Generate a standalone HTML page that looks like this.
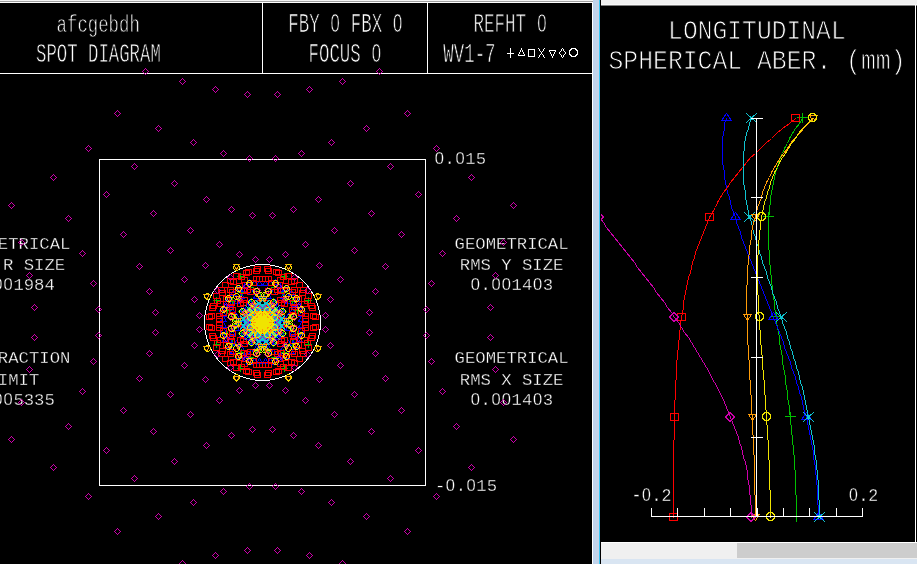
<!DOCTYPE html>
<html lang="en"><head><meta charset="utf-8"><title>Spot diagram / Longitudinal spherical aberration</title>
<style>html,body{margin:0;padding:0;background:#000;overflow:hidden}svg{display:block;will-change:transform}
.t{font-family:"Liberation Mono","DejaVu Sans Mono",monospace;fill:#fff;stroke:#000}
.z{font-family:"Liberation Sans","DejaVu Sans",sans-serif}
.ce{shape-rendering:crispEdges;fill:none;stroke-width:1;stroke-linecap:square;stroke-linejoin:bevel}
</style></head>
<body>
<svg width="917" height="564" viewBox="0 0 917 564">
<defs><linearGradient id="bf" x1="0" x2="1" y1="0" y2="0"><stop offset="0" stop-color="#bcd3ee"/><stop offset="1" stop-color="#c6d3e6"/></linearGradient><clipPath id="cl"><rect x="0" y="3" width="592" height="561"/></clipPath><clipPath id="cr"><rect x="601" y="6" width="314" height="536"/></clipPath></defs>
<rect width="917" height="564" fill="#000"/>
<g shape-rendering="crispEdges">
<rect x="0" y="0" width="593" height="1" fill="#f4f4f4"/><rect x="0" y="1" width="593" height="1" fill="#a0a0a0"/><rect x="0" y="2" width="593" height="1" fill="#fff"/>
<rect x="592" y="2" width="1" height="562" fill="#fff"/><rect x="593" y="0" width="6" height="564" fill="url(#bf)"/><rect x="599" y="0" width="1" height="564" fill="#38c6f4"/>
<rect x="601" y="0" width="316" height="4" fill="#f0f0f0"/><rect x="601" y="4" width="316" height="1" fill="#f8f8f8"/><rect x="601" y="5" width="316" height="1" fill="#808080"/>
<rect x="915" y="5" width="1" height="538" fill="#fff"/>
<rect x="601" y="542" width="316" height="1" fill="#fff"/><rect x="601" y="543" width="316" height="16" fill="#f0f0f0"/><rect x="737" y="543" width="180" height="15" fill="#cdcdcd"/><rect x="601" y="559" width="316" height="5" fill="#d9e5f2"/>
</g>
<g class="ce" stroke="#fff" style="stroke-linecap:butt">
<path d="M0 73.5H592M262.5 3V73M427.5 3V73"/>
<rect x="99.5" y="159.5" width="326" height="326"/>
</g>
<g clip-path="url(#cl)">
<text class="t" transform="translate(56.6 31.8) scale(0.7133 1)" font-size="24.3" stroke-width="0.75" x="0 14.58 29.16 43.74 58.32 72.9 87.48 102.06" y="0" xml:space="preserve">afcgebdh</text>
<text class="t" transform="translate(36 61.8) scale(0.6378 1)" font-size="27.17" stroke-width="0.75" x="0 16.3 32.61 48.91 65.22 81.52 97.83 114.13 130.44 146.74 163.05 179.35" y="0" xml:space="preserve">SPOT DIAGRAM</text>
<text class="t" transform="translate(288.29 31.5) scale(0.6391 1)" font-size="27.17" stroke-width="0.75" x="0 16.3 32.61 48.91 66.14 81.52 97.83 114.13 130.44 146.74 163.97" y="0" xml:space="preserve">FBY <tspan class="z" font-size="26.02">0</tspan> FBX <tspan class="z" font-size="26.02">0</tspan></text>
<text class="t" transform="translate(308.53 61.8) scale(0.6409 1)" font-size="27.17" stroke-width="0.75" x="0 16.3 32.61 48.91 65.22 81.52 98.75" y="0" xml:space="preserve">FOCUS <tspan class="z" font-size="26.02">0</tspan></text>
<text class="t" transform="translate(473.55 31.5) scale(0.6440 1)" font-size="27.17" stroke-width="0.75" x="0 16.3 32.61 48.91 65.22 81.52 98.75" y="0" xml:space="preserve">REFHT <tspan class="z" font-size="26.02">0</tspan></text>
<text class="t" transform="translate(443.3 61.8) scale(0.6409 1)" font-size="27.17" stroke-width="0.75" x="0 16.3 32.61 48.91 65.22" y="0" xml:space="preserve">WV1-7</text>
<text class="t" transform="translate(434.2 164.2) scale(1.0340 1)" font-size="16.7" stroke-width="0.32" x="0.56 10.02 20.6 30.06 40.08" y="0" xml:space="preserve"><tspan class="z" font-size="15.99">0</tspan>.<tspan class="z" font-size="15.99">0</tspan>15</text>
<text class="t" transform="translate(434.92 491.2) scale(1.0340 1)" font-size="16.7" stroke-width="0.32" x="0 10.58 20.04 30.62 40.08 50.1" y="0" xml:space="preserve">-<tspan class="z" font-size="15.99">0</tspan>.<tspan class="z" font-size="15.99">0</tspan>15</text>
<text class="t" transform="translate(454.62 248.9) scale(1.0340 1)" font-size="16.7" stroke-width="0.32" x="0 10.02 20.04 30.06 40.08 50.1 60.12 70.14 80.16 90.18 100.2" y="0" xml:space="preserve">GEOMETRICAL</text>
<text class="t" transform="translate(459.8 269.5) scale(1.0340 1)" font-size="16.7" stroke-width="0.32" x="0 10.02 20.04 30.06 40.08 50.1 60.12 70.14 80.16 90.18" y="0" xml:space="preserve">RMS Y SIZE</text>
<text class="t" transform="translate(470.16 289.9) scale(1.0340 1)" font-size="16.7" stroke-width="0.32" x="0.56 10.02 20.6 30.62 40.08 50.1 60.68 70.14" y="0" xml:space="preserve"><tspan class="z" font-size="15.99">0</tspan>.<tspan class="z" font-size="15.99">0</tspan><tspan class="z" font-size="15.99">0</tspan>14<tspan class="z" font-size="15.99">0</tspan>3</text>
<text class="t" transform="translate(454.62 363.4) scale(1.0340 1)" font-size="16.7" stroke-width="0.32" x="0 10.02 20.04 30.06 40.08 50.1 60.12 70.14 80.16 90.18 100.2" y="0" xml:space="preserve">GEOMETRICAL</text>
<text class="t" transform="translate(459.8 384.5) scale(1.0340 1)" font-size="16.7" stroke-width="0.32" x="0 10.02 20.04 30.06 40.08 50.1 60.12 70.14 80.16 90.18" y="0" xml:space="preserve">RMS X SIZE</text>
<text class="t" transform="translate(470.16 404.6) scale(1.0340 1)" font-size="16.7" stroke-width="0.32" x="0.56 10.02 20.6 30.62 40.08 50.1 60.68 70.14" y="0" xml:space="preserve"><tspan class="z" font-size="15.99">0</tspan>.<tspan class="z" font-size="15.99">0</tspan><tspan class="z" font-size="15.99">0</tspan>14<tspan class="z" font-size="15.99">0</tspan>3</text>
<text class="t" transform="translate(-43.58 248.9) scale(1.0340 1)" font-size="16.7" stroke-width="0.32" x="0 10.02 20.04 30.06 40.08 50.1 60.12 70.14 80.16 90.18 100.2" y="0" xml:space="preserve">GEOMETRICAL</text>
<text class="t" transform="translate(-38.4 269.5) scale(1.0340 1)" font-size="16.7" stroke-width="0.32" x="0 10.02 20.04 30.06 40.08 50.1 60.12 70.14 80.16 90.18" y="0" xml:space="preserve">RMS R SIZE</text>
<text class="t" transform="translate(-28.04 289.9) scale(1.0340 1)" font-size="16.7" stroke-width="0.32" x="0.56 10.02 20.6 30.62 40.08 50.1 60.12 70.14" y="0" xml:space="preserve"><tspan class="z" font-size="15.99">0</tspan>.<tspan class="z" font-size="15.99">0</tspan><tspan class="z" font-size="15.99">0</tspan>1984</text>
<text class="t" transform="translate(-43.58 363.4) scale(1.0340 1)" font-size="16.7" stroke-width="0.32" x="0 10.02 20.04 30.06 40.08 50.1 60.12 70.14 80.16 90.18 100.2" y="0" xml:space="preserve">DIFFRACTION</text>
<text class="t" transform="translate(-12.5 384.5) scale(1.0340 1)" font-size="16.7" stroke-width="0.32" x="0 10.02 20.04 30.06 40.08" y="0" xml:space="preserve">LIMIT</text>
<text class="t" transform="translate(-28.04 404.6) scale(1.0340 1)" font-size="16.7" stroke-width="0.32" x="0.56 10.02 20.6 30.62 40.08 50.1 60.12 70.14" y="0" xml:space="preserve"><tspan class="z" font-size="15.99">0</tspan>.<tspan class="z" font-size="15.99">0</tspan><tspan class="z" font-size="15.99">0</tspan>5335</text>
</g>
<text class="t" transform="translate(668.1 38.9) scale(0.9180 1)" font-size="26.87" stroke-width="0.9" x="0 16.12 32.25 48.37 64.49 80.61 96.74 112.86 128.98 145.1 161.23 177.35" y="0" xml:space="preserve">LONGITUDINAL</text>
<text class="t" transform="translate(608.5 69) scale(0.9108 1)" font-size="27.17" stroke-width="0.9" x="0 16.3 32.61 48.91 65.22 81.52 97.83 114.13 130.44 146.74 163.05 179.35 195.66 211.96 228.27 244.57 260.88 277.18 293.49 309.79" y="0" xml:space="preserve">SPHERICAL ABER. (mm)</text>
<text class="t" transform="translate(631.6 500.9) scale(0.9103 1)" font-size="18.22" stroke-width="0.32" x="0 11.55 21.86 32.79" y="0" xml:space="preserve">-<tspan class="z" font-size="17.44">0</tspan>.2</text>
<text class="t" transform="translate(848.48 500.9) scale(0.9103 1)" font-size="18.22" stroke-width="0.32" x="0.62 10.93 21.86" y="0" xml:space="preserve"><tspan class="z" font-size="17.44">0</tspan>.2</text>
<path class="ce" stroke="#fff" d="M507.5 53.5h6M510.5 48.5v9M521.5 48.5l3 7h-6zM528.5 49.5h6v7h-6zM538.5 48.5l6 9M544.5 48.5l-6 9M552.5 57.5l3 -7h-6zM559.5 53l3 -4.5 3 4.5 -3 4.5zM569.5 51.5l1 -2 2 -1h2l2 1 1 2v2l-1 2 -2 1h-2l-2 -1 -1 -2z"/>
<g clip-path="url(#cl)">
<path class="ce" stroke="#fff" d="M320.5 322.5L320.28 327.56L319.62 332.57L318.52 337.51L317 342.34L315.07 347.01L312.73 351.5L310.01 355.77L306.93 359.78L303.51 363.51L299.78 366.93L295.77 370.01L291.5 372.73L287.01 375.07L282.34 377L277.51 378.52L272.57 379.62L267.56 380.28L262.5 380.5L257.44 380.28L252.43 379.62L247.49 378.52L242.66 377L237.99 375.07L233.5 372.73L229.23 370.01L225.22 366.93L221.49 363.51L218.07 359.78L214.99 355.77L212.27 351.5L209.93 347.01L208 342.34L206.48 337.51L205.38 332.57L204.72 327.56L204.5 322.5L204.72 317.44L205.38 312.43L206.48 307.49L208 302.66L209.93 297.99L212.27 293.5L214.99 289.23L218.07 285.22L221.49 281.49L225.22 278.07L229.23 274.99L233.5 272.27L237.99 269.93L242.66 268L247.49 266.48L252.43 265.38L257.44 264.72L262.5 264.5L267.56 264.72L272.57 265.38L277.51 266.48L282.34 268L287.01 269.93L291.5 272.27L295.77 274.99L299.78 278.07L303.51 281.49L306.93 285.22L310.01 289.23L312.73 293.5L315.07 297.99L317 302.66L318.52 307.49L319.62 312.43L320.28 317.44z"/>
<path class="ce" stroke="#00c000" d="M213.5 344.5h6M216.5 341.5v6M224.5 334.5h6M227.5 331.5v6M230.5 328.5h6M233.5 325.5v6M233.5 324.5h6M236.5 321.5v6M233.5 320.5h6M236.5 317.5v6M230.5 316.5h6M233.5 313.5v6M224.5 310.5h6M227.5 307.5v6M213.5 300.5h6M216.5 297.5v6M229.5 343.5h6M232.5 340.5v6M238.5 333.5h6M241.5 330.5v6M243.5 328.5h6M246.5 325.5v6M245.5 325.5h6M248.5 322.5v6M246.5 323.5h6M249.5 320.5v6M246.5 321.5h6M249.5 318.5v6M245.5 319.5h6M248.5 316.5v6M243.5 316.5h6M246.5 313.5v6M238.5 311.5h6M241.5 308.5v6M229.5 301.5h6M232.5 298.5v6M236.5 345.5h6M239.5 342.5v6M245.5 334.5h6M248.5 331.5v6M248.5 329.5h6M251.5 326.5v6M249.5 327.5h6M252.5 324.5v6M249.5 325.5h6M252.5 322.5v6M248.5 323.5h6M251.5 320.5v6M248.5 321.5h6M251.5 318.5v6M249.5 319.5h6M252.5 316.5v6M249.5 317.5h6M252.5 314.5v6M248.5 315.5h6M251.5 312.5v6M245.5 310.5h6M248.5 307.5v6M236.5 299.5h6M239.5 296.5v6M238.5 352.5h6M241.5 349.5v6M247.5 336.5h6M250.5 333.5v6M250.5 331.5h6M253.5 328.5v6M250.5 329.5h6M253.5 326.5v6M249.5 328.5h6M252.5 325.5v6M248.5 326.5h6M251.5 323.5v6M247.5 323.5h6M250.5 320.5v6M247.5 321.5h6M250.5 318.5v6M248.5 318.5h6M251.5 315.5v6M249.5 316.5h6M252.5 313.5v6M250.5 315.5h6M253.5 312.5v6M250.5 313.5h6M253.5 310.5v6M247.5 308.5h6M250.5 305.5v6M238.5 292.5h6M241.5 289.5v6M237.5 368.5h6M240.5 365.5v6M248.5 343.5h6M251.5 340.5v6M252.5 333.5h6M255.5 330.5v6M252.5 331.5h6M255.5 328.5v6M251.5 330.5h6M254.5 327.5v6M249.5 329.5h6M252.5 326.5v6M247.5 327.5h6M250.5 324.5v6M246.5 324.5h6M249.5 321.5v6M246.5 320.5h6M249.5 317.5v6M247.5 317.5h6M250.5 314.5v6M249.5 315.5h6M252.5 312.5v6M251.5 314.5h6M254.5 311.5v6M252.5 313.5h6M255.5 310.5v6M252.5 311.5h6M255.5 308.5v6M248.5 301.5h6M251.5 298.5v6M237.5 276.5h6M240.5 273.5v6M247.5 357.5h6M250.5 354.5v6M253.5 338.5h6M256.5 335.5v6M254.5 332.5h6M257.5 329.5v6M253.5 332.5h6M256.5 329.5v6M252.5 332.5h6M255.5 329.5v6M249.5 332.5h6M252.5 329.5v6M248.5 329.5h6M251.5 326.5v6M247.5 324.5h6M250.5 321.5v6M247.5 320.5h6M250.5 317.5v6M248.5 315.5h6M251.5 312.5v6M249.5 312.5h6M252.5 309.5v6M252.5 312.5h6M255.5 309.5v6M253.5 312.5h6M256.5 309.5v6M254.5 312.5h6M257.5 309.5v6M253.5 306.5h6M256.5 303.5v6M247.5 287.5h6M250.5 284.5v6M253.5 351.5h6M256.5 348.5v6M256.5 336.5h6M259.5 333.5v6M256.5 332.5h6M259.5 329.5v6M255.5 333.5h6M258.5 330.5v6M254.5 334.5h6M257.5 331.5v6M252.5 333.5h6M255.5 330.5v6M251.5 330.5h6M254.5 327.5v6M251.5 325.5h6M254.5 322.5v6M251.5 319.5h6M254.5 316.5v6M251.5 314.5h6M254.5 311.5v6M252.5 311.5h6M255.5 308.5v6M254.5 310.5h6M257.5 307.5v6M255.5 311.5h6M258.5 308.5v6M256.5 312.5h6M259.5 309.5v6M256.5 308.5h6M259.5 305.5v6M253.5 293.5h6M256.5 290.5v6M257.5 348.5h6M260.5 345.5v6M258.5 335.5h6M261.5 332.5v6M258.5 333.5h6M261.5 330.5v6M258.5 334.5h6M261.5 331.5v6M257.5 335.5h6M260.5 332.5v6M257.5 334.5h6M260.5 331.5v6M256.5 330.5h6M259.5 327.5v6M256.5 325.5h6M259.5 322.5v6M256.5 319.5h6M259.5 316.5v6M256.5 314.5h6M259.5 311.5v6M257.5 310.5h6M260.5 307.5v6M257.5 309.5h6M260.5 306.5v6M258.5 310.5h6M261.5 307.5v6M258.5 311.5h6M261.5 308.5v6M258.5 309.5h6M261.5 306.5v6M257.5 296.5h6M260.5 293.5v6M261.5 348.5h6M264.5 345.5v6M260.5 335.5h6M263.5 332.5v6M260.5 333.5h6M263.5 330.5v6M260.5 334.5h6M263.5 331.5v6M261.5 335.5h6M264.5 332.5v6M261.5 334.5h6M264.5 331.5v6M262.5 330.5h6M265.5 327.5v6M262.5 325.5h6M265.5 322.5v6M262.5 319.5h6M265.5 316.5v6M262.5 314.5h6M265.5 311.5v6M261.5 310.5h6M264.5 307.5v6M261.5 309.5h6M264.5 306.5v6M260.5 310.5h6M263.5 307.5v6M260.5 311.5h6M263.5 308.5v6M260.5 309.5h6M263.5 306.5v6M261.5 296.5h6M264.5 293.5v6M265.5 351.5h6M268.5 348.5v6M262.5 336.5h6M265.5 333.5v6M262.5 332.5h6M265.5 329.5v6M263.5 333.5h6M266.5 330.5v6M264.5 334.5h6M267.5 331.5v6M266.5 333.5h6M269.5 330.5v6M267.5 330.5h6M270.5 327.5v6M267.5 325.5h6M270.5 322.5v6M267.5 319.5h6M270.5 316.5v6M267.5 314.5h6M270.5 311.5v6M266.5 311.5h6M269.5 308.5v6M264.5 310.5h6M267.5 307.5v6M263.5 311.5h6M266.5 308.5v6M262.5 312.5h6M265.5 309.5v6M262.5 308.5h6M265.5 305.5v6M265.5 293.5h6M268.5 290.5v6M271.5 357.5h6M274.5 354.5v6M265.5 338.5h6M268.5 335.5v6M264.5 332.5h6M267.5 329.5v6M265.5 332.5h6M268.5 329.5v6M266.5 332.5h6M269.5 329.5v6M269.5 332.5h6M272.5 329.5v6M270.5 329.5h6M273.5 326.5v6M271.5 324.5h6M274.5 321.5v6M271.5 320.5h6M274.5 317.5v6M270.5 315.5h6M273.5 312.5v6M269.5 312.5h6M272.5 309.5v6M266.5 312.5h6M269.5 309.5v6M265.5 312.5h6M268.5 309.5v6M264.5 312.5h6M267.5 309.5v6M265.5 306.5h6M268.5 303.5v6M271.5 287.5h6M274.5 284.5v6M281.5 368.5h6M284.5 365.5v6M270.5 343.5h6M273.5 340.5v6M266.5 333.5h6M269.5 330.5v6M266.5 331.5h6M269.5 328.5v6M267.5 330.5h6M270.5 327.5v6M269.5 329.5h6M272.5 326.5v6M271.5 327.5h6M274.5 324.5v6M272.5 324.5h6M275.5 321.5v6M272.5 320.5h6M275.5 317.5v6M271.5 317.5h6M274.5 314.5v6M269.5 315.5h6M272.5 312.5v6M267.5 314.5h6M270.5 311.5v6M266.5 313.5h6M269.5 310.5v6M266.5 311.5h6M269.5 308.5v6M270.5 301.5h6M273.5 298.5v6M281.5 276.5h6M284.5 273.5v6M280.5 352.5h6M283.5 349.5v6M271.5 336.5h6M274.5 333.5v6M268.5 331.5h6M271.5 328.5v6M268.5 329.5h6M271.5 326.5v6M269.5 328.5h6M272.5 325.5v6M270.5 326.5h6M273.5 323.5v6M271.5 323.5h6M274.5 320.5v6M271.5 321.5h6M274.5 318.5v6M270.5 318.5h6M273.5 315.5v6M269.5 316.5h6M272.5 313.5v6M268.5 315.5h6M271.5 312.5v6M268.5 313.5h6M271.5 310.5v6M271.5 308.5h6M274.5 305.5v6M280.5 292.5h6M283.5 289.5v6M282.5 345.5h6M285.5 342.5v6M273.5 334.5h6M276.5 331.5v6M270.5 329.5h6M273.5 326.5v6M269.5 327.5h6M272.5 324.5v6M269.5 325.5h6M272.5 322.5v6M270.5 323.5h6M273.5 320.5v6M270.5 321.5h6M273.5 318.5v6M269.5 319.5h6M272.5 316.5v6M269.5 317.5h6M272.5 314.5v6M270.5 315.5h6M273.5 312.5v6M273.5 310.5h6M276.5 307.5v6M282.5 299.5h6M285.5 296.5v6M289.5 343.5h6M292.5 340.5v6M280.5 333.5h6M283.5 330.5v6M275.5 328.5h6M278.5 325.5v6M273.5 325.5h6M276.5 322.5v6M272.5 323.5h6M275.5 320.5v6M272.5 321.5h6M275.5 318.5v6M273.5 319.5h6M276.5 316.5v6M275.5 316.5h6M278.5 313.5v6M280.5 311.5h6M283.5 308.5v6M289.5 301.5h6M292.5 298.5v6M305.5 344.5h6M308.5 341.5v6M294.5 334.5h6M297.5 331.5v6M288.5 328.5h6M291.5 325.5v6M285.5 324.5h6M288.5 321.5v6M285.5 320.5h6M288.5 317.5v6M288.5 316.5h6M291.5 313.5v6M294.5 310.5h6M297.5 307.5v6M305.5 300.5h6M308.5 297.5v6"/>
<path class="ce" stroke="#0000ff" d="M299.5 302.5l3 5h-6zM302.5 306.5l3 5h-6zM301.5 311.5l3 5h-6zM301.5 316.5l3 5h-6zM301.5 322.5l3 5h-6zM301.5 327.5l3 5h-6zM302.5 332.5l3 5h-6zM299.5 336.5l3 5h-6zM296.5 295.5l3 5h-6zM295.5 301.5l3 5h-6zM292.5 308.5l3 5h-6zM288.5 313.5l3 5h-6zM286.5 317.5l3 5h-6zM286.5 321.5l3 5h-6zM288.5 325.5l3 5h-6zM292.5 330.5l3 5h-6zM295.5 337.5l3 5h-6zM296.5 343.5l3 5h-6zM291.5 290.5l3 5h-6zM288.5 298.5l3 5h-6zM282.5 306.5l3 5h-6zM276.5 313.5l3 5h-6zM271.5 317.5l3 5h-6zM268.5 318.5l3 5h-6zM268.5 320.5l3 5h-6zM271.5 321.5l3 5h-6zM276.5 325.5l3 5h-6zM282.5 332.5l3 5h-6zM288.5 340.5l3 5h-6zM291.5 348.5l3 5h-6zM286.5 285.5l3 5h-6zM283.5 293.5l3 5h-6zM277.5 304.5l3 5h-6zM269.5 313.5l3 5h-6zM262.5 319.5l3 5h-6zM257.5 321.5l3 5h-6zM254.5 320.5l3 5h-6zM254.5 318.5l3 5h-6zM257.5 317.5l3 5h-6zM262.5 319.5l3 5h-6zM269.5 325.5l3 5h-6zM277.5 334.5l3 5h-6zM283.5 345.5l3 5h-6zM286.5 353.5l3 5h-6zM279.5 282.5l3 5h-6zM280.5 286.5l3 5h-6zM275.5 299.5l3 5h-6zM268.5 312.5l3 5h-6zM260.5 321.5l3 5h-6zM253.5 325.5l3 5h-6zM249.5 325.5l3 5h-6zM246.5 321.5l3 5h-6zM246.5 317.5l3 5h-6zM249.5 313.5l3 5h-6zM253.5 313.5l3 5h-6zM260.5 317.5l3 5h-6zM268.5 326.5l3 5h-6zM275.5 339.5l3 5h-6zM280.5 352.5l3 5h-6zM279.5 356.5l3 5h-6zM275.5 279.5l3 5h-6zM273.5 289.5l3 5h-6zM268.5 305.5l3 5h-6zM262.5 319.5l3 5h-6zM256.5 328.5l3 5h-6zM251.5 330.5l3 5h-6zM247.5 328.5l3 5h-6zM245.5 322.5l3 5h-6zM245.5 316.5l3 5h-6zM247.5 310.5l3 5h-6zM251.5 308.5l3 5h-6zM256.5 310.5l3 5h-6zM262.5 319.5l3 5h-6zM268.5 333.5l3 5h-6zM273.5 349.5l3 5h-6zM275.5 359.5l3 5h-6zM270.5 280.5l3 5h-6zM268.5 293.5l3 5h-6zM264.5 310.5l3 5h-6zM260.5 324.5l3 5h-6zM256.5 332.5l3 5h-6zM253.5 334.5l3 5h-6zM250.5 331.5l3 5h-6zM249.5 323.5l3 5h-6zM249.5 315.5l3 5h-6zM250.5 307.5l3 5h-6zM253.5 304.5l3 5h-6zM256.5 306.5l3 5h-6zM260.5 314.5l3 5h-6zM264.5 328.5l3 5h-6zM268.5 345.5l3 5h-6zM270.5 358.5l3 5h-6zM265.5 280.5l3 5h-6zM264.5 295.5l3 5h-6zM263.5 313.5l3 5h-6zM261.5 327.5l3 5h-6zM260.5 335.5l3 5h-6zM259.5 336.5l3 5h-6zM258.5 332.5l3 5h-6zM257.5 324.5l3 5h-6zM257.5 314.5l3 5h-6zM258.5 306.5l3 5h-6zM259.5 302.5l3 5h-6zM260.5 303.5l3 5h-6zM261.5 311.5l3 5h-6zM263.5 325.5l3 5h-6zM264.5 343.5l3 5h-6zM265.5 358.5l3 5h-6zM259.5 280.5l3 5h-6zM260.5 295.5l3 5h-6zM261.5 313.5l3 5h-6zM263.5 327.5l3 5h-6zM264.5 335.5l3 5h-6zM265.5 336.5l3 5h-6zM266.5 332.5l3 5h-6zM267.5 324.5l3 5h-6zM267.5 314.5l3 5h-6zM266.5 306.5l3 5h-6zM265.5 302.5l3 5h-6zM264.5 303.5l3 5h-6zM263.5 311.5l3 5h-6zM261.5 325.5l3 5h-6zM260.5 343.5l3 5h-6zM259.5 358.5l3 5h-6zM254.5 280.5l3 5h-6zM256.5 293.5l3 5h-6zM260.5 310.5l3 5h-6zM264.5 324.5l3 5h-6zM268.5 332.5l3 5h-6zM271.5 334.5l3 5h-6zM274.5 331.5l3 5h-6zM275.5 323.5l3 5h-6zM275.5 315.5l3 5h-6zM274.5 307.5l3 5h-6zM271.5 304.5l3 5h-6zM268.5 306.5l3 5h-6zM264.5 314.5l3 5h-6zM260.5 328.5l3 5h-6zM256.5 345.5l3 5h-6zM254.5 358.5l3 5h-6zM249.5 279.5l3 5h-6zM251.5 289.5l3 5h-6zM256.5 305.5l3 5h-6zM262.5 319.5l3 5h-6zM268.5 328.5l3 5h-6zM273.5 330.5l3 5h-6zM277.5 328.5l3 5h-6zM279.5 322.5l3 5h-6zM279.5 316.5l3 5h-6zM277.5 310.5l3 5h-6zM273.5 308.5l3 5h-6zM268.5 310.5l3 5h-6zM262.5 319.5l3 5h-6zM256.5 333.5l3 5h-6zM251.5 349.5l3 5h-6zM249.5 359.5l3 5h-6zM245.5 282.5l3 5h-6zM244.5 286.5l3 5h-6zM249.5 299.5l3 5h-6zM256.5 312.5l3 5h-6zM264.5 321.5l3 5h-6zM271.5 325.5l3 5h-6zM275.5 325.5l3 5h-6zM278.5 321.5l3 5h-6zM278.5 317.5l3 5h-6zM275.5 313.5l3 5h-6zM271.5 313.5l3 5h-6zM264.5 317.5l3 5h-6zM256.5 326.5l3 5h-6zM249.5 339.5l3 5h-6zM244.5 352.5l3 5h-6zM245.5 356.5l3 5h-6zM238.5 285.5l3 5h-6zM241.5 293.5l3 5h-6zM247.5 304.5l3 5h-6zM255.5 313.5l3 5h-6zM262.5 319.5l3 5h-6zM267.5 321.5l3 5h-6zM270.5 320.5l3 5h-6zM270.5 318.5l3 5h-6zM267.5 317.5l3 5h-6zM262.5 319.5l3 5h-6zM255.5 325.5l3 5h-6zM247.5 334.5l3 5h-6zM241.5 345.5l3 5h-6zM238.5 353.5l3 5h-6zM233.5 290.5l3 5h-6zM236.5 298.5l3 5h-6zM242.5 306.5l3 5h-6zM248.5 313.5l3 5h-6zM253.5 317.5l3 5h-6zM256.5 318.5l3 5h-6zM256.5 320.5l3 5h-6zM253.5 321.5l3 5h-6zM248.5 325.5l3 5h-6zM242.5 332.5l3 5h-6zM236.5 340.5l3 5h-6zM233.5 348.5l3 5h-6zM228.5 295.5l3 5h-6zM229.5 301.5l3 5h-6zM232.5 308.5l3 5h-6zM236.5 313.5l3 5h-6zM238.5 317.5l3 5h-6zM238.5 321.5l3 5h-6zM236.5 325.5l3 5h-6zM232.5 330.5l3 5h-6zM229.5 337.5l3 5h-6zM228.5 343.5l3 5h-6zM225.5 302.5l3 5h-6zM222.5 306.5l3 5h-6zM223.5 311.5l3 5h-6zM223.5 316.5l3 5h-6zM223.5 322.5l3 5h-6zM223.5 327.5l3 5h-6zM222.5 332.5l3 5h-6zM225.5 336.5l3 5h-6z"/>
<path class="ce" stroke="#ff0000" d="M227.5 334.5h6v5h-6zM250.5 322.5h6v5h-6zM264.5 318.5h6v5h-6zM271.5 318.5h6v5h-6zM271.5 320.5h6v5h-6zM264.5 320.5h6v5h-6zM250.5 316.5h6v5h-6zM227.5 304.5h6v5h-6zM251.5 324.5h6v5h-6zM275.5 311.5h6v5h-6zM289.5 307.5h6v5h-6zM298.5 310.5h6v5h-6zM302.5 316.5h6v5h-6zM302.5 322.5h6v5h-6zM298.5 328.5h6v5h-6zM289.5 331.5h6v5h-6zM275.5 327.5h6v5h-6zM251.5 314.5h6v5h-6zM258.5 320.5h6v5h-6zM281.5 301.5h6v5h-6zM295.5 296.5h6v5h-6zM304.5 298.5h6v5h-6zM309.5 305.5h6v5h-6zM312.5 314.5h6v5h-6zM312.5 324.5h6v5h-6zM309.5 333.5h6v5h-6zM304.5 340.5h6v5h-6zM295.5 342.5h6v5h-6zM281.5 337.5h6v5h-6zM258.5 318.5h6v5h-6zM254.5 327.5h6v5h-6zM277.5 297.5h6v5h-6zM291.5 287.5h6v5h-6zM300.5 287.5h6v5h-6zM305.5 293.5h6v5h-6zM308.5 303.5h6v5h-6zM310.5 313.5h6v5h-6zM310.5 325.5h6v5h-6zM308.5 335.5h6v5h-6zM305.5 345.5h6v5h-6zM300.5 351.5h6v5h-6zM291.5 351.5h6v5h-6zM277.5 341.5h6v5h-6zM254.5 311.5h6v5h-6zM244.5 351.5h6v5h-6zM267.5 303.5h6v5h-6zM282.5 283.5h6v5h-6zM291.5 278.5h6v5h-6zM296.5 282.5h6v5h-6zM299.5 290.5h6v5h-6zM301.5 301.5h6v5h-6zM302.5 313.5h6v5h-6zM302.5 325.5h6v5h-6zM301.5 337.5h6v5h-6zM299.5 348.5h6v5h-6zM296.5 356.5h6v5h-6zM291.5 360.5h6v5h-6zM282.5 355.5h6v5h-6zM267.5 335.5h6v5h-6zM244.5 287.5h6v5h-6zM256.5 328.5h6v5h-6zM271.5 289.5h6v5h-6zM280.5 274.5h6v5h-6zM285.5 273.5h6v5h-6zM288.5 279.5h6v5h-6zM289.5 289.5h6v5h-6zM290.5 300.5h6v5h-6zM290.5 313.5h6v5h-6zM290.5 325.5h6v5h-6zM290.5 338.5h6v5h-6zM289.5 349.5h6v5h-6zM288.5 359.5h6v5h-6zM285.5 365.5h6v5h-6zM280.5 364.5h6v5h-6zM271.5 349.5h6v5h-6zM256.5 310.5h6v5h-6zM260.5 314.5h6v5h-6zM268.5 280.5h6v5h-6zM273.5 269.5h6v5h-6zM275.5 270.5h6v5h-6zM277.5 277.5h6v5h-6zM278.5 288.5h6v5h-6zM278.5 300.5h6v5h-6zM278.5 313.5h6v5h-6zM278.5 325.5h6v5h-6zM278.5 338.5h6v5h-6zM278.5 350.5h6v5h-6zM277.5 361.5h6v5h-6zM275.5 368.5h6v5h-6zM273.5 369.5h6v5h-6zM268.5 358.5h6v5h-6zM260.5 324.5h6v5h-6zM260.5 307.5h6v5h-6zM262.5 276.5h6v5h-6zM264.5 266.5h6v5h-6zM265.5 268.5h6v5h-6zM265.5 276.5h6v5h-6zM265.5 288.5h6v5h-6zM265.5 300.5h6v5h-6zM265.5 313.5h6v5h-6zM265.5 325.5h6v5h-6zM265.5 338.5h6v5h-6zM265.5 350.5h6v5h-6zM265.5 362.5h6v5h-6zM265.5 370.5h6v5h-6zM264.5 372.5h6v5h-6zM262.5 362.5h6v5h-6zM260.5 331.5h6v5h-6zM258.5 307.5h6v5h-6zM256.5 276.5h6v5h-6zM254.5 266.5h6v5h-6zM253.5 268.5h6v5h-6zM253.5 276.5h6v5h-6zM253.5 288.5h6v5h-6zM253.5 300.5h6v5h-6zM253.5 313.5h6v5h-6zM253.5 325.5h6v5h-6zM253.5 338.5h6v5h-6zM253.5 350.5h6v5h-6zM253.5 362.5h6v5h-6zM253.5 370.5h6v5h-6zM254.5 372.5h6v5h-6zM256.5 362.5h6v5h-6zM258.5 331.5h6v5h-6zM258.5 314.5h6v5h-6zM250.5 280.5h6v5h-6zM245.5 269.5h6v5h-6zM243.5 270.5h6v5h-6zM241.5 277.5h6v5h-6zM240.5 288.5h6v5h-6zM240.5 300.5h6v5h-6zM240.5 313.5h6v5h-6zM240.5 325.5h6v5h-6zM240.5 338.5h6v5h-6zM240.5 350.5h6v5h-6zM241.5 361.5h6v5h-6zM243.5 368.5h6v5h-6zM245.5 369.5h6v5h-6zM250.5 358.5h6v5h-6zM258.5 324.5h6v5h-6zM262.5 328.5h6v5h-6zM247.5 289.5h6v5h-6zM238.5 274.5h6v5h-6zM233.5 273.5h6v5h-6zM230.5 279.5h6v5h-6zM229.5 289.5h6v5h-6zM228.5 300.5h6v5h-6zM228.5 313.5h6v5h-6zM228.5 325.5h6v5h-6zM228.5 338.5h6v5h-6zM229.5 349.5h6v5h-6zM230.5 359.5h6v5h-6zM233.5 365.5h6v5h-6zM238.5 364.5h6v5h-6zM247.5 349.5h6v5h-6zM262.5 310.5h6v5h-6zM274.5 351.5h6v5h-6zM251.5 303.5h6v5h-6zM236.5 283.5h6v5h-6zM227.5 278.5h6v5h-6zM222.5 282.5h6v5h-6zM219.5 290.5h6v5h-6zM217.5 301.5h6v5h-6zM216.5 313.5h6v5h-6zM216.5 325.5h6v5h-6zM217.5 337.5h6v5h-6zM219.5 348.5h6v5h-6zM222.5 356.5h6v5h-6zM227.5 360.5h6v5h-6zM236.5 355.5h6v5h-6zM251.5 335.5h6v5h-6zM274.5 287.5h6v5h-6zM264.5 327.5h6v5h-6zM241.5 297.5h6v5h-6zM227.5 287.5h6v5h-6zM218.5 287.5h6v5h-6zM213.5 293.5h6v5h-6zM210.5 303.5h6v5h-6zM208.5 313.5h6v5h-6zM208.5 325.5h6v5h-6zM210.5 335.5h6v5h-6zM213.5 345.5h6v5h-6zM218.5 351.5h6v5h-6zM227.5 351.5h6v5h-6zM241.5 341.5h6v5h-6zM264.5 311.5h6v5h-6zM260.5 320.5h6v5h-6zM237.5 301.5h6v5h-6zM223.5 296.5h6v5h-6zM214.5 298.5h6v5h-6zM209.5 305.5h6v5h-6zM206.5 314.5h6v5h-6zM206.5 324.5h6v5h-6zM209.5 333.5h6v5h-6zM214.5 340.5h6v5h-6zM223.5 342.5h6v5h-6zM237.5 337.5h6v5h-6zM260.5 318.5h6v5h-6zM267.5 324.5h6v5h-6zM243.5 311.5h6v5h-6zM229.5 307.5h6v5h-6zM220.5 310.5h6v5h-6zM216.5 316.5h6v5h-6zM216.5 322.5h6v5h-6zM220.5 328.5h6v5h-6zM229.5 331.5h6v5h-6zM243.5 327.5h6v5h-6zM267.5 314.5h6v5h-6zM291.5 334.5h6v5h-6zM268.5 322.5h6v5h-6zM254.5 318.5h6v5h-6zM247.5 318.5h6v5h-6zM247.5 320.5h6v5h-6zM254.5 320.5h6v5h-6zM268.5 316.5h6v5h-6zM291.5 304.5h6v5h-6z"/>
<path class="ce" stroke="#10c4d0" d="M268.5 315.5l6 6M274.5 315.5l-6 6M273.5 314.5l6 6M279.5 314.5l-6 6M274.5 316.5l6 6M280.5 316.5l-6 6M275.5 318.5l6 6M281.5 318.5l-6 6M275.5 320.5l6 6M281.5 320.5l-6 6M274.5 322.5l6 6M280.5 322.5l-6 6M273.5 324.5l6 6M279.5 324.5l-6 6M268.5 323.5l6 6M274.5 323.5l-6 6M271.5 311.5l6 6M277.5 311.5l-6 6M272.5 312.5l6 6M278.5 312.5l-6 6M271.5 314.5l6 6M277.5 314.5l-6 6M269.5 317.5l6 6M275.5 317.5l-6 6M267.5 318.5l6 6M273.5 318.5l-6 6M267.5 320.5l6 6M273.5 320.5l-6 6M269.5 321.5l6 6M275.5 321.5l-6 6M271.5 324.5l6 6M277.5 324.5l-6 6M272.5 326.5l6 6M278.5 326.5l-6 6M271.5 327.5l6 6M277.5 327.5l-6 6M270.5 308.5l6 6M276.5 308.5l-6 6M270.5 310.5l6 6M276.5 310.5l-6 6M266.5 315.5l6 6M272.5 315.5l-6 6M261.5 318.5l6 6M267.5 318.5l-6 6M257.5 319.5l6 6M263.5 319.5l-6 6M255.5 319.5l6 6M261.5 319.5l-6 6M255.5 319.5l6 6M261.5 319.5l-6 6M257.5 319.5l6 6M263.5 319.5l-6 6M261.5 320.5l6 6M267.5 320.5l-6 6M266.5 323.5l6 6M272.5 323.5l-6 6M270.5 328.5l6 6M276.5 328.5l-6 6M270.5 330.5l6 6M276.5 330.5l-6 6M267.5 307.5l6 6M273.5 307.5l-6 6M268.5 308.5l6 6M274.5 308.5l-6 6M264.5 314.5l6 6M270.5 314.5l-6 6M258.5 320.5l6 6M264.5 320.5l-6 6M252.5 323.5l6 6M258.5 323.5l-6 6M247.5 323.5l6 6M253.5 323.5l-6 6M245.5 321.5l6 6M251.5 321.5l-6 6M245.5 317.5l6 6M251.5 317.5l-6 6M247.5 315.5l6 6M253.5 315.5l-6 6M252.5 315.5l6 6M258.5 315.5l-6 6M258.5 318.5l6 6M264.5 318.5l-6 6M264.5 324.5l6 6M270.5 324.5l-6 6M268.5 330.5l6 6M274.5 330.5l-6 6M267.5 331.5l6 6M273.5 331.5l-6 6M263.5 310.5l6 6M269.5 310.5l-6 6M266.5 306.5l6 6M272.5 306.5l-6 6M263.5 312.5l6 6M269.5 312.5l-6 6M258.5 320.5l6 6M264.5 320.5l-6 6M252.5 326.5l6 6M258.5 326.5l-6 6M246.5 328.5l6 6M252.5 328.5l-6 6M242.5 326.5l6 6M248.5 326.5l-6 6M240.5 322.5l6 6M246.5 322.5l-6 6M240.5 316.5l6 6M246.5 316.5l-6 6M242.5 312.5l6 6M248.5 312.5l-6 6M246.5 310.5l6 6M252.5 310.5l-6 6M252.5 312.5l6 6M258.5 312.5l-6 6M258.5 318.5l6 6M264.5 318.5l-6 6M263.5 326.5l6 6M269.5 326.5l-6 6M266.5 332.5l6 6M272.5 332.5l-6 6M263.5 328.5l6 6M269.5 328.5l-6 6M264.5 305.5l6 6M270.5 305.5l-6 6M264.5 307.5l6 6M270.5 307.5l-6 6M260.5 317.5l6 6M266.5 317.5l-6 6M255.5 326.5l6 6M261.5 326.5l-6 6M250.5 332.5l6 6M256.5 332.5l-6 6M245.5 333.5l6 6M251.5 333.5l-6 6M242.5 329.5l6 6M248.5 329.5l-6 6M240.5 323.5l6 6M246.5 323.5l-6 6M240.5 315.5l6 6M246.5 315.5l-6 6M242.5 309.5l6 6M248.5 309.5l-6 6M245.5 305.5l6 6M251.5 305.5l-6 6M250.5 306.5l6 6M256.5 306.5l-6 6M255.5 312.5l6 6M261.5 312.5l-6 6M260.5 321.5l6 6M266.5 321.5l-6 6M264.5 331.5l6 6M270.5 331.5l-6 6M264.5 333.5l6 6M270.5 333.5l-6 6M262.5 304.5l6 6M268.5 304.5l-6 6M261.5 309.5l6 6M267.5 309.5l-6 6M259.5 321.5l6 6M265.5 321.5l-6 6M255.5 331.5l6 6M261.5 331.5l-6 6M252.5 336.5l6 6M258.5 336.5l-6 6M249.5 336.5l6 6M255.5 336.5l-6 6M247.5 331.5l6 6M253.5 331.5l-6 6M246.5 323.5l6 6M252.5 323.5l-6 6M246.5 315.5l6 6M252.5 315.5l-6 6M247.5 307.5l6 6M253.5 307.5l-6 6M249.5 302.5l6 6M255.5 302.5l-6 6M252.5 302.5l6 6M258.5 302.5l-6 6M255.5 307.5l6 6M261.5 307.5l-6 6M259.5 317.5l6 6M265.5 317.5l-6 6M261.5 329.5l6 6M267.5 329.5l-6 6M262.5 334.5l6 6M268.5 334.5l-6 6M260.5 303.5l6 6M266.5 303.5l-6 6M260.5 311.5l6 6M266.5 311.5l-6 6M259.5 323.5l6 6M265.5 323.5l-6 6M257.5 333.5l6 6M263.5 333.5l-6 6M256.5 338.5l6 6M262.5 338.5l-6 6M255.5 338.5l6 6M261.5 338.5l-6 6M255.5 332.5l6 6M261.5 332.5l-6 6M254.5 324.5l6 6M260.5 324.5l-6 6M254.5 314.5l6 6M260.5 314.5l-6 6M255.5 306.5l6 6M261.5 306.5l-6 6M255.5 300.5l6 6M261.5 300.5l-6 6M256.5 300.5l6 6M262.5 300.5l-6 6M257.5 305.5l6 6M263.5 305.5l-6 6M259.5 315.5l6 6M265.5 315.5l-6 6M260.5 327.5l6 6M266.5 327.5l-6 6M260.5 335.5l6 6M266.5 335.5l-6 6M258.5 303.5l6 6M264.5 303.5l-6 6M258.5 311.5l6 6M264.5 311.5l-6 6M259.5 323.5l6 6M265.5 323.5l-6 6M261.5 333.5l6 6M267.5 333.5l-6 6M262.5 338.5l6 6M268.5 338.5l-6 6M263.5 338.5l6 6M269.5 338.5l-6 6M263.5 332.5l6 6M269.5 332.5l-6 6M264.5 324.5l6 6M270.5 324.5l-6 6M264.5 314.5l6 6M270.5 314.5l-6 6M263.5 306.5l6 6M269.5 306.5l-6 6M263.5 300.5l6 6M269.5 300.5l-6 6M262.5 300.5l6 6M268.5 300.5l-6 6M261.5 305.5l6 6M267.5 305.5l-6 6M259.5 315.5l6 6M265.5 315.5l-6 6M258.5 327.5l6 6M264.5 327.5l-6 6M258.5 335.5l6 6M264.5 335.5l-6 6M256.5 304.5l6 6M262.5 304.5l-6 6M257.5 309.5l6 6M263.5 309.5l-6 6M259.5 321.5l6 6M265.5 321.5l-6 6M263.5 331.5l6 6M269.5 331.5l-6 6M266.5 336.5l6 6M272.5 336.5l-6 6M269.5 336.5l6 6M275.5 336.5l-6 6M271.5 331.5l6 6M277.5 331.5l-6 6M272.5 323.5l6 6M278.5 323.5l-6 6M272.5 315.5l6 6M278.5 315.5l-6 6M271.5 307.5l6 6M277.5 307.5l-6 6M269.5 302.5l6 6M275.5 302.5l-6 6M266.5 302.5l6 6M272.5 302.5l-6 6M263.5 307.5l6 6M269.5 307.5l-6 6M259.5 317.5l6 6M265.5 317.5l-6 6M257.5 329.5l6 6M263.5 329.5l-6 6M256.5 334.5l6 6M262.5 334.5l-6 6M254.5 305.5l6 6M260.5 305.5l-6 6M254.5 307.5l6 6M260.5 307.5l-6 6M258.5 317.5l6 6M264.5 317.5l-6 6M263.5 326.5l6 6M269.5 326.5l-6 6M268.5 332.5l6 6M274.5 332.5l-6 6M273.5 333.5l6 6M279.5 333.5l-6 6M276.5 329.5l6 6M282.5 329.5l-6 6M278.5 323.5l6 6M284.5 323.5l-6 6M278.5 315.5l6 6M284.5 315.5l-6 6M276.5 309.5l6 6M282.5 309.5l-6 6M273.5 305.5l6 6M279.5 305.5l-6 6M268.5 306.5l6 6M274.5 306.5l-6 6M263.5 312.5l6 6M269.5 312.5l-6 6M258.5 321.5l6 6M264.5 321.5l-6 6M254.5 331.5l6 6M260.5 331.5l-6 6M254.5 333.5l6 6M260.5 333.5l-6 6M255.5 310.5l6 6M261.5 310.5l-6 6M252.5 306.5l6 6M258.5 306.5l-6 6M255.5 312.5l6 6M261.5 312.5l-6 6M260.5 320.5l6 6M266.5 320.5l-6 6M266.5 326.5l6 6M272.5 326.5l-6 6M272.5 328.5l6 6M278.5 328.5l-6 6M276.5 326.5l6 6M282.5 326.5l-6 6M278.5 322.5l6 6M284.5 322.5l-6 6M278.5 316.5l6 6M284.5 316.5l-6 6M276.5 312.5l6 6M282.5 312.5l-6 6M272.5 310.5l6 6M278.5 310.5l-6 6M266.5 312.5l6 6M272.5 312.5l-6 6M260.5 318.5l6 6M266.5 318.5l-6 6M255.5 326.5l6 6M261.5 326.5l-6 6M252.5 332.5l6 6M258.5 332.5l-6 6M255.5 328.5l6 6M261.5 328.5l-6 6M251.5 307.5l6 6M257.5 307.5l-6 6M250.5 308.5l6 6M256.5 308.5l-6 6M254.5 314.5l6 6M260.5 314.5l-6 6M260.5 320.5l6 6M266.5 320.5l-6 6M266.5 323.5l6 6M272.5 323.5l-6 6M271.5 323.5l6 6M277.5 323.5l-6 6M273.5 321.5l6 6M279.5 321.5l-6 6M273.5 317.5l6 6M279.5 317.5l-6 6M271.5 315.5l6 6M277.5 315.5l-6 6M266.5 315.5l6 6M272.5 315.5l-6 6M260.5 318.5l6 6M266.5 318.5l-6 6M254.5 324.5l6 6M260.5 324.5l-6 6M250.5 330.5l6 6M256.5 330.5l-6 6M251.5 331.5l6 6M257.5 331.5l-6 6M248.5 308.5l6 6M254.5 308.5l-6 6M248.5 310.5l6 6M254.5 310.5l-6 6M252.5 315.5l6 6M258.5 315.5l-6 6M257.5 318.5l6 6M263.5 318.5l-6 6M261.5 319.5l6 6M267.5 319.5l-6 6M263.5 319.5l6 6M269.5 319.5l-6 6M263.5 319.5l6 6M269.5 319.5l-6 6M261.5 319.5l6 6M267.5 319.5l-6 6M257.5 320.5l6 6M263.5 320.5l-6 6M252.5 323.5l6 6M258.5 323.5l-6 6M248.5 328.5l6 6M254.5 328.5l-6 6M248.5 330.5l6 6M254.5 330.5l-6 6M247.5 311.5l6 6M253.5 311.5l-6 6M246.5 312.5l6 6M252.5 312.5l-6 6M247.5 314.5l6 6M253.5 314.5l-6 6M249.5 317.5l6 6M255.5 317.5l-6 6M251.5 318.5l6 6M257.5 318.5l-6 6M251.5 320.5l6 6M257.5 320.5l-6 6M249.5 321.5l6 6M255.5 321.5l-6 6M247.5 324.5l6 6M253.5 324.5l-6 6M246.5 326.5l6 6M252.5 326.5l-6 6M247.5 327.5l6 6M253.5 327.5l-6 6M250.5 315.5l6 6M256.5 315.5l-6 6M245.5 314.5l6 6M251.5 314.5l-6 6M244.5 316.5l6 6M250.5 316.5l-6 6M243.5 318.5l6 6M249.5 318.5l-6 6M243.5 320.5l6 6M249.5 320.5l-6 6M244.5 322.5l6 6M250.5 322.5l-6 6M245.5 324.5l6 6M251.5 324.5l-6 6M250.5 323.5l6 6M256.5 323.5l-6 6"/>
<path class="ce" stroke="#ff9c08" d="M206.5 351.5l3 -5h-6zM224.5 338.5l3 -5h-6zM233.5 331.5l3 -5h-6zM238.5 327.5l3 -5h-6zM238.5 323.5l3 -5h-6zM233.5 319.5l3 -5h-6zM224.5 312.5l3 -5h-6zM206.5 299.5l3 -5h-6zM229.5 348.5l3 -5h-6zM245.5 334.5l3 -5h-6zM254.5 328.5l3 -5h-6zM259.5 326.5l3 -5h-6zM261.5 325.5l3 -5h-6zM261.5 325.5l3 -5h-6zM259.5 324.5l3 -5h-6zM254.5 322.5l3 -5h-6zM245.5 316.5l3 -5h-6zM229.5 302.5l3 -5h-6zM238.5 349.5l3 -5h-6zM253.5 332.5l3 -5h-6zM261.5 325.5l3 -5h-6zM266.5 323.5l3 -5h-6zM268.5 323.5l3 -5h-6zM269.5 324.5l3 -5h-6zM269.5 326.5l3 -5h-6zM268.5 327.5l3 -5h-6zM266.5 327.5l3 -5h-6zM261.5 325.5l3 -5h-6zM253.5 318.5l3 -5h-6zM238.5 301.5l3 -5h-6zM239.5 358.5l3 -5h-6zM255.5 334.5l3 -5h-6zM263.5 324.5l3 -5h-6zM267.5 321.5l3 -5h-6zM268.5 322.5l3 -5h-6zM269.5 323.5l3 -5h-6zM269.5 324.5l3 -5h-6zM269.5 326.5l3 -5h-6zM269.5 327.5l3 -5h-6zM268.5 328.5l3 -5h-6zM267.5 329.5l3 -5h-6zM263.5 326.5l3 -5h-6zM255.5 316.5l3 -5h-6zM239.5 292.5l3 -5h-6zM236.5 381.5l3 -5h-6zM253.5 342.5l3 -5h-6zM262.5 326.5l3 -5h-6zM266.5 320.5l3 -5h-6zM267.5 320.5l3 -5h-6zM267.5 321.5l3 -5h-6zM267.5 323.5l3 -5h-6zM266.5 324.5l3 -5h-6zM266.5 326.5l3 -5h-6zM267.5 327.5l3 -5h-6zM267.5 329.5l3 -5h-6zM267.5 330.5l3 -5h-6zM266.5 330.5l3 -5h-6zM262.5 324.5l3 -5h-6zM253.5 308.5l3 -5h-6zM236.5 269.5l3 -5h-6zM249.5 363.5l3 -5h-6zM259.5 333.5l3 -5h-6zM264.5 321.5l3 -5h-6zM265.5 319.5l3 -5h-6zM266.5 320.5l3 -5h-6zM265.5 322.5l3 -5h-6zM265.5 323.5l3 -5h-6zM264.5 325.5l3 -5h-6zM264.5 325.5l3 -5h-6zM265.5 327.5l3 -5h-6zM265.5 328.5l3 -5h-6zM266.5 330.5l3 -5h-6zM265.5 331.5l3 -5h-6zM264.5 329.5l3 -5h-6zM259.5 317.5l3 -5h-6zM249.5 287.5l3 -5h-6zM256.5 354.5l3 -5h-6zM261.5 328.5l3 -5h-6zM264.5 319.5l3 -5h-6zM264.5 318.5l3 -5h-6zM264.5 320.5l3 -5h-6zM264.5 322.5l3 -5h-6zM263.5 324.5l3 -5h-6zM263.5 325.5l3 -5h-6zM263.5 325.5l3 -5h-6zM263.5 326.5l3 -5h-6zM264.5 328.5l3 -5h-6zM264.5 330.5l3 -5h-6zM264.5 332.5l3 -5h-6zM264.5 331.5l3 -5h-6zM261.5 322.5l3 -5h-6zM256.5 296.5l3 -5h-6zM260.5 349.5l3 -5h-6zM262.5 326.5l3 -5h-6zM263.5 318.5l3 -5h-6zM263.5 318.5l3 -5h-6zM263.5 321.5l3 -5h-6zM262.5 323.5l3 -5h-6zM262.5 324.5l3 -5h-6zM262.5 325.5l3 -5h-6zM262.5 325.5l3 -5h-6zM262.5 326.5l3 -5h-6zM262.5 327.5l3 -5h-6zM263.5 329.5l3 -5h-6zM263.5 332.5l3 -5h-6zM263.5 332.5l3 -5h-6zM262.5 324.5l3 -5h-6zM260.5 301.5l3 -5h-6zM264.5 349.5l3 -5h-6zM262.5 326.5l3 -5h-6zM261.5 318.5l3 -5h-6zM261.5 318.5l3 -5h-6zM261.5 321.5l3 -5h-6zM262.5 323.5l3 -5h-6zM262.5 324.5l3 -5h-6zM262.5 325.5l3 -5h-6zM262.5 325.5l3 -5h-6zM262.5 326.5l3 -5h-6zM262.5 327.5l3 -5h-6zM261.5 329.5l3 -5h-6zM261.5 332.5l3 -5h-6zM261.5 332.5l3 -5h-6zM262.5 324.5l3 -5h-6zM264.5 301.5l3 -5h-6zM268.5 354.5l3 -5h-6zM263.5 328.5l3 -5h-6zM260.5 319.5l3 -5h-6zM260.5 318.5l3 -5h-6zM260.5 320.5l3 -5h-6zM260.5 322.5l3 -5h-6zM261.5 324.5l3 -5h-6zM261.5 325.5l3 -5h-6zM261.5 325.5l3 -5h-6zM261.5 326.5l3 -5h-6zM260.5 328.5l3 -5h-6zM260.5 330.5l3 -5h-6zM260.5 332.5l3 -5h-6zM260.5 331.5l3 -5h-6zM263.5 322.5l3 -5h-6zM268.5 296.5l3 -5h-6zM275.5 363.5l3 -5h-6zM265.5 333.5l3 -5h-6zM260.5 321.5l3 -5h-6zM259.5 319.5l3 -5h-6zM258.5 320.5l3 -5h-6zM259.5 322.5l3 -5h-6zM259.5 323.5l3 -5h-6zM260.5 325.5l3 -5h-6zM260.5 325.5l3 -5h-6zM259.5 327.5l3 -5h-6zM259.5 328.5l3 -5h-6zM258.5 330.5l3 -5h-6zM259.5 331.5l3 -5h-6zM260.5 329.5l3 -5h-6zM265.5 317.5l3 -5h-6zM275.5 287.5l3 -5h-6zM288.5 381.5l3 -5h-6zM271.5 342.5l3 -5h-6zM262.5 326.5l3 -5h-6zM258.5 320.5l3 -5h-6zM257.5 320.5l3 -5h-6zM257.5 321.5l3 -5h-6zM257.5 323.5l3 -5h-6zM258.5 324.5l3 -5h-6zM258.5 326.5l3 -5h-6zM257.5 327.5l3 -5h-6zM257.5 329.5l3 -5h-6zM257.5 330.5l3 -5h-6zM258.5 330.5l3 -5h-6zM262.5 324.5l3 -5h-6zM271.5 308.5l3 -5h-6zM288.5 269.5l3 -5h-6zM285.5 358.5l3 -5h-6zM269.5 334.5l3 -5h-6zM261.5 324.5l3 -5h-6zM257.5 321.5l3 -5h-6zM256.5 322.5l3 -5h-6zM255.5 323.5l3 -5h-6zM255.5 324.5l3 -5h-6zM255.5 326.5l3 -5h-6zM255.5 327.5l3 -5h-6zM256.5 328.5l3 -5h-6zM257.5 329.5l3 -5h-6zM261.5 326.5l3 -5h-6zM269.5 316.5l3 -5h-6zM285.5 292.5l3 -5h-6zM286.5 349.5l3 -5h-6zM271.5 332.5l3 -5h-6zM263.5 325.5l3 -5h-6zM258.5 323.5l3 -5h-6zM256.5 323.5l3 -5h-6zM255.5 324.5l3 -5h-6zM255.5 326.5l3 -5h-6zM256.5 327.5l3 -5h-6zM258.5 327.5l3 -5h-6zM263.5 325.5l3 -5h-6zM271.5 318.5l3 -5h-6zM286.5 301.5l3 -5h-6zM295.5 348.5l3 -5h-6zM279.5 334.5l3 -5h-6zM270.5 328.5l3 -5h-6zM265.5 326.5l3 -5h-6zM263.5 325.5l3 -5h-6zM263.5 325.5l3 -5h-6zM265.5 324.5l3 -5h-6zM270.5 322.5l3 -5h-6zM279.5 316.5l3 -5h-6zM295.5 302.5l3 -5h-6zM318.5 351.5l3 -5h-6zM300.5 338.5l3 -5h-6zM291.5 331.5l3 -5h-6zM286.5 327.5l3 -5h-6zM286.5 323.5l3 -5h-6zM291.5 319.5l3 -5h-6zM300.5 312.5l3 -5h-6zM318.5 299.5l3 -5h-6z"/>
<path class="ce" stroke="#cc00aa" d="M8.5 439.5l3 -3 3 3 -3 3zM18.5 402.5l3 -3 3 3 -3 3zM26.5 369.5l3 -3 3 3 -3 3zM31.5 337.5l3 -3 3 3 -3 3zM31.5 307.5l3 -3 3 3 -3 3zM26.5 275.5l3 -3 3 3 -3 3zM18.5 242.5l3 -3 3 3 -3 3zM8.5 205.5l3 -3 3 3 -3 3zM50.5 467.5l3 -3 3 3 -3 3zM65.5 426.5l3 -3 3 3 -3 3zM79.5 391.5l3 -3 3 3 -3 3zM90.5 361.5l3 -3 3 3 -3 3zM95.5 335.5l3 -3 3 3 -3 3zM95.5 309.5l3 -3 3 3 -3 3zM90.5 283.5l3 -3 3 3 -3 3zM79.5 253.5l3 -3 3 3 -3 3zM65.5 218.5l3 -3 3 3 -3 3zM50.5 177.5l3 -3 3 3 -3 3zM85.5 496.5l3 -3 3 3 -3 3zM103.5 450.5l3 -3 3 3 -3 3zM120.5 410.5l3 -3 3 3 -3 3zM136.5 378.5l3 -3 3 3 -3 3zM146.5 353.5l3 -3 3 3 -3 3zM152.5 332.5l3 -3 3 3 -3 3zM152.5 312.5l3 -3 3 3 -3 3zM146.5 291.5l3 -3 3 3 -3 3zM136.5 266.5l3 -3 3 3 -3 3zM120.5 234.5l3 -3 3 3 -3 3zM103.5 194.5l3 -3 3 3 -3 3zM85.5 148.5l3 -3 3 3 -3 3zM114.5 531.5l3 -3 3 3 -3 3zM131.5 478.5l3 -3 3 3 -3 3zM150.5 431.5l3 -3 3 3 -3 3zM167.5 394.5l3 -3 3 3 -3 3zM181.5 365.5l3 -3 3 3 -3 3zM191.5 345.5l3 -3 3 3 -3 3zM196.5 329.5l3 -3 3 3 -3 3zM196.5 315.5l3 -3 3 3 -3 3zM191.5 299.5l3 -3 3 3 -3 3zM181.5 279.5l3 -3 3 3 -3 3zM167.5 250.5l3 -3 3 3 -3 3zM150.5 213.5l3 -3 3 3 -3 3zM131.5 166.5l3 -3 3 3 -3 3zM114.5 113.5l3 -3 3 3 -3 3zM142.5 573.5l3 -3 3 3 -3 3zM155.5 516.5l3 -3 3 3 -3 3zM171.5 461.5l3 -3 3 3 -3 3zM187.5 414.5l3 -3 3 3 -3 3zM202.5 379.5l3 -3 3 3 -3 3zM214.5 354.5l3 -3 3 3 -3 3zM223.5 338.5l3 -3 3 3 -3 3zM227.5 327.5l3 -3 3 3 -3 3zM227.5 317.5l3 -3 3 3 -3 3zM223.5 306.5l3 -3 3 3 -3 3zM214.5 290.5l3 -3 3 3 -3 3zM202.5 265.5l3 -3 3 3 -3 3zM187.5 230.5l3 -3 3 3 -3 3zM171.5 183.5l3 -3 3 3 -3 3zM155.5 128.5l3 -3 3 3 -3 3zM142.5 71.5l3 -3 3 3 -3 3zM179.5 563.5l3 -3 3 3 -3 3zM190.5 502.5l3 -3 3 3 -3 3zM203.5 445.5l3 -3 3 3 -3 3zM216.5 400.5l3 -3 3 3 -3 3zM227.5 367.5l3 -3 3 3 -3 3zM236.5 345.5l3 -3 3 3 -3 3zM242.5 332.5l3 -3 3 3 -3 3zM245.5 325.5l3 -3 3 3 -3 3zM245.5 319.5l3 -3 3 3 -3 3zM242.5 312.5l3 -3 3 3 -3 3zM236.5 299.5l3 -3 3 3 -3 3zM227.5 277.5l3 -3 3 3 -3 3zM216.5 244.5l3 -3 3 3 -3 3zM203.5 199.5l3 -3 3 3 -3 3zM190.5 142.5l3 -3 3 3 -3 3zM179.5 81.5l3 -3 3 3 -3 3zM212.5 555.5l3 -3 3 3 -3 3zM220.5 491.5l3 -3 3 3 -3 3zM228.5 435.5l3 -3 3 3 -3 3zM236.5 390.5l3 -3 3 3 -3 3zM243.5 358.5l3 -3 3 3 -3 3zM249.5 339.5l3 -3 3 3 -3 3zM253.5 328.5l3 -3 3 3 -3 3zM255.5 323.5l3 -3 3 3 -3 3zM255.5 321.5l3 -3 3 3 -3 3zM253.5 316.5l3 -3 3 3 -3 3zM249.5 305.5l3 -3 3 3 -3 3zM243.5 286.5l3 -3 3 3 -3 3zM236.5 254.5l3 -3 3 3 -3 3zM228.5 209.5l3 -3 3 3 -3 3zM220.5 153.5l3 -3 3 3 -3 3zM212.5 89.5l3 -3 3 3 -3 3zM244.5 550.5l3 -3 3 3 -3 3zM246.5 486.5l3 -3 3 3 -3 3zM249.5 429.5l3 -3 3 3 -3 3zM252.5 385.5l3 -3 3 3 -3 3zM254.5 354.5l3 -3 3 3 -3 3zM256.5 336.5l3 -3 3 3 -3 3zM258.5 326.5l3 -3 3 3 -3 3zM258.5 323.5l3 -3 3 3 -3 3zM258.5 321.5l3 -3 3 3 -3 3zM258.5 318.5l3 -3 3 3 -3 3zM256.5 308.5l3 -3 3 3 -3 3zM254.5 290.5l3 -3 3 3 -3 3zM252.5 259.5l3 -3 3 3 -3 3zM249.5 215.5l3 -3 3 3 -3 3zM246.5 158.5l3 -3 3 3 -3 3zM244.5 94.5l3 -3 3 3 -3 3zM274.5 550.5l3 -3 3 3 -3 3zM272.5 486.5l3 -3 3 3 -3 3zM269.5 429.5l3 -3 3 3 -3 3zM266.5 385.5l3 -3 3 3 -3 3zM264.5 354.5l3 -3 3 3 -3 3zM262.5 336.5l3 -3 3 3 -3 3zM260.5 326.5l3 -3 3 3 -3 3zM260.5 323.5l3 -3 3 3 -3 3zM260.5 321.5l3 -3 3 3 -3 3zM260.5 318.5l3 -3 3 3 -3 3zM262.5 308.5l3 -3 3 3 -3 3zM264.5 290.5l3 -3 3 3 -3 3zM266.5 259.5l3 -3 3 3 -3 3zM269.5 215.5l3 -3 3 3 -3 3zM272.5 158.5l3 -3 3 3 -3 3zM274.5 94.5l3 -3 3 3 -3 3zM306.5 555.5l3 -3 3 3 -3 3zM298.5 491.5l3 -3 3 3 -3 3zM290.5 435.5l3 -3 3 3 -3 3zM282.5 390.5l3 -3 3 3 -3 3zM275.5 358.5l3 -3 3 3 -3 3zM269.5 339.5l3 -3 3 3 -3 3zM265.5 328.5l3 -3 3 3 -3 3zM263.5 323.5l3 -3 3 3 -3 3zM263.5 321.5l3 -3 3 3 -3 3zM265.5 316.5l3 -3 3 3 -3 3zM269.5 305.5l3 -3 3 3 -3 3zM275.5 286.5l3 -3 3 3 -3 3zM282.5 254.5l3 -3 3 3 -3 3zM290.5 209.5l3 -3 3 3 -3 3zM298.5 153.5l3 -3 3 3 -3 3zM306.5 89.5l3 -3 3 3 -3 3zM339.5 563.5l3 -3 3 3 -3 3zM328.5 502.5l3 -3 3 3 -3 3zM315.5 445.5l3 -3 3 3 -3 3zM302.5 400.5l3 -3 3 3 -3 3zM291.5 367.5l3 -3 3 3 -3 3zM282.5 345.5l3 -3 3 3 -3 3zM276.5 332.5l3 -3 3 3 -3 3zM273.5 325.5l3 -3 3 3 -3 3zM273.5 319.5l3 -3 3 3 -3 3zM276.5 312.5l3 -3 3 3 -3 3zM282.5 299.5l3 -3 3 3 -3 3zM291.5 277.5l3 -3 3 3 -3 3zM302.5 244.5l3 -3 3 3 -3 3zM315.5 199.5l3 -3 3 3 -3 3zM328.5 142.5l3 -3 3 3 -3 3zM339.5 81.5l3 -3 3 3 -3 3zM376.5 573.5l3 -3 3 3 -3 3zM363.5 516.5l3 -3 3 3 -3 3zM347.5 461.5l3 -3 3 3 -3 3zM331.5 414.5l3 -3 3 3 -3 3zM316.5 379.5l3 -3 3 3 -3 3zM304.5 354.5l3 -3 3 3 -3 3zM295.5 338.5l3 -3 3 3 -3 3zM291.5 327.5l3 -3 3 3 -3 3zM291.5 317.5l3 -3 3 3 -3 3zM295.5 306.5l3 -3 3 3 -3 3zM304.5 290.5l3 -3 3 3 -3 3zM316.5 265.5l3 -3 3 3 -3 3zM331.5 230.5l3 -3 3 3 -3 3zM347.5 183.5l3 -3 3 3 -3 3zM363.5 128.5l3 -3 3 3 -3 3zM376.5 71.5l3 -3 3 3 -3 3zM404.5 531.5l3 -3 3 3 -3 3zM387.5 478.5l3 -3 3 3 -3 3zM368.5 431.5l3 -3 3 3 -3 3zM351.5 394.5l3 -3 3 3 -3 3zM337.5 365.5l3 -3 3 3 -3 3zM327.5 345.5l3 -3 3 3 -3 3zM322.5 329.5l3 -3 3 3 -3 3zM322.5 315.5l3 -3 3 3 -3 3zM327.5 299.5l3 -3 3 3 -3 3zM337.5 279.5l3 -3 3 3 -3 3zM351.5 250.5l3 -3 3 3 -3 3zM368.5 213.5l3 -3 3 3 -3 3zM387.5 166.5l3 -3 3 3 -3 3zM404.5 113.5l3 -3 3 3 -3 3zM433.5 496.5l3 -3 3 3 -3 3zM415.5 450.5l3 -3 3 3 -3 3zM398.5 410.5l3 -3 3 3 -3 3zM382.5 378.5l3 -3 3 3 -3 3zM372.5 353.5l3 -3 3 3 -3 3zM366.5 332.5l3 -3 3 3 -3 3zM366.5 312.5l3 -3 3 3 -3 3zM372.5 291.5l3 -3 3 3 -3 3zM382.5 266.5l3 -3 3 3 -3 3zM398.5 234.5l3 -3 3 3 -3 3zM415.5 194.5l3 -3 3 3 -3 3zM433.5 148.5l3 -3 3 3 -3 3zM468.5 467.5l3 -3 3 3 -3 3zM453.5 426.5l3 -3 3 3 -3 3zM439.5 391.5l3 -3 3 3 -3 3zM428.5 361.5l3 -3 3 3 -3 3zM423.5 335.5l3 -3 3 3 -3 3zM423.5 309.5l3 -3 3 3 -3 3zM428.5 283.5l3 -3 3 3 -3 3zM439.5 253.5l3 -3 3 3 -3 3zM453.5 218.5l3 -3 3 3 -3 3zM468.5 177.5l3 -3 3 3 -3 3zM510.5 439.5l3 -3 3 3 -3 3zM500.5 402.5l3 -3 3 3 -3 3zM492.5 369.5l3 -3 3 3 -3 3zM487.5 337.5l3 -3 3 3 -3 3zM487.5 307.5l3 -3 3 3 -3 3zM492.5 275.5l3 -3 3 3 -3 3zM500.5 242.5l3 -3 3 3 -3 3zM510.5 205.5l3 -3 3 3 -3 3z"/>
<path class="ce" stroke="#f0e400" d="M204.5 347.5l2 -2h2l2 2v2l-2 2h-2l-2 -2zM220.5 334.5l2 -2h2l2 2v2l-2 2h-2l-2 -2zM228.5 327.5l2 -2h2l2 2v2l-2 2h-2l-2 -2zM232.5 323.5l2 -2h2l2 2v2l-2 2h-2l-2 -2zM232.5 319.5l2 -2h2l2 2v2l-2 2h-2l-2 -2zM228.5 315.5l2 -2h2l2 2v2l-2 2h-2l-2 -2zM220.5 308.5l2 -2h2l2 2v2l-2 2h-2l-2 -2zM204.5 295.5l2 -2h2l2 2v2l-2 2h-2l-2 -2zM225.5 345.5l2 -2h2l2 2v2l-2 2h-2l-2 -2zM239.5 332.5l2 -2h2l2 2v2l-2 2h-2l-2 -2zM247.5 326.5l2 -2h2l2 2v2l-2 2h-2l-2 -2zM251.5 323.5l2 -2h2l2 2v2l-2 2h-2l-2 -2zM252.5 322.5l2 -2h2l2 2v2l-2 2h-2l-2 -2zM252.5 320.5l2 -2h2l2 2v2l-2 2h-2l-2 -2zM251.5 319.5l2 -2h2l2 2v2l-2 2h-2l-2 -2zM247.5 316.5l2 -2h2l2 2v2l-2 2h-2l-2 -2zM239.5 310.5l2 -2h2l2 2v2l-2 2h-2l-2 -2zM225.5 297.5l2 -2h2l2 2v2l-2 2h-2l-2 -2zM233.5 347.5l2 -2h2l2 2v2l-2 2h-2l-2 -2zM246.5 331.5l2 -2h2l2 2v2l-2 2h-2l-2 -2zM253.5 325.5l2 -2h2l2 2v2l-2 2h-2l-2 -2zM256.5 322.5l2 -2h2l2 2v2l-2 2h-2l-2 -2zM257.5 321.5l2 -2h2l2 2v2l-2 2h-2l-2 -2zM258.5 321.5l2 -2h2l2 2v2l-2 2h-2l-2 -2zM258.5 321.5l2 -2h2l2 2v2l-2 2h-2l-2 -2zM257.5 321.5l2 -2h2l2 2v2l-2 2h-2l-2 -2zM256.5 320.5l2 -2h2l2 2v2l-2 2h-2l-2 -2zM253.5 317.5l2 -2h2l2 2v2l-2 2h-2l-2 -2zM246.5 311.5l2 -2h2l2 2v2l-2 2h-2l-2 -2zM233.5 295.5l2 -2h2l2 2v2l-2 2h-2l-2 -2zM235.5 355.5l2 -2h2l2 2v2l-2 2h-2l-2 -2zM249.5 334.5l2 -2h2l2 2v2l-2 2h-2l-2 -2zM255.5 325.5l2 -2h2l2 2v2l-2 2h-2l-2 -2zM258.5 322.5l2 -2h2l2 2v2l-2 2h-2l-2 -2zM258.5 321.5l2 -2h2l2 2v2l-2 2h-2l-2 -2zM258.5 321.5l2 -2h2l2 2v2l-2 2h-2l-2 -2zM258.5 321.5l2 -2h2l2 2v2l-2 2h-2l-2 -2zM258.5 321.5l2 -2h2l2 2v2l-2 2h-2l-2 -2zM258.5 321.5l2 -2h2l2 2v2l-2 2h-2l-2 -2zM258.5 321.5l2 -2h2l2 2v2l-2 2h-2l-2 -2zM258.5 320.5l2 -2h2l2 2v2l-2 2h-2l-2 -2zM255.5 317.5l2 -2h2l2 2v2l-2 2h-2l-2 -2zM249.5 308.5l2 -2h2l2 2v2l-2 2h-2l-2 -2zM235.5 287.5l2 -2h2l2 2v2l-2 2h-2l-2 -2zM233.5 376.5l2 -2h2l2 2v2l-2 2h-2l-2 -2zM248.5 341.5l2 -2h2l2 2v2l-2 2h-2l-2 -2zM255.5 327.5l2 -2h2l2 2v2l-2 2h-2l-2 -2zM258.5 322.5l2 -2h2l2 2v2l-2 2h-2l-2 -2zM258.5 322.5l2 -2h2l2 2v2l-2 2h-2l-2 -2zM258.5 322.5l2 -2h2l2 2v2l-2 2h-2l-2 -2zM257.5 322.5l2 -2h2l2 2v2l-2 2h-2l-2 -2zM256.5 321.5l2 -2h2l2 2v2l-2 2h-2l-2 -2zM256.5 321.5l2 -2h2l2 2v2l-2 2h-2l-2 -2zM257.5 320.5l2 -2h2l2 2v2l-2 2h-2l-2 -2zM258.5 320.5l2 -2h2l2 2v2l-2 2h-2l-2 -2zM258.5 320.5l2 -2h2l2 2v2l-2 2h-2l-2 -2zM258.5 320.5l2 -2h2l2 2v2l-2 2h-2l-2 -2zM255.5 315.5l2 -2h2l2 2v2l-2 2h-2l-2 -2zM248.5 301.5l2 -2h2l2 2v2l-2 2h-2l-2 -2zM233.5 266.5l2 -2h2l2 2v2l-2 2h-2l-2 -2zM246.5 360.5l2 -2h2l2 2v2l-2 2h-2l-2 -2zM254.5 333.5l2 -2h2l2 2v2l-2 2h-2l-2 -2zM258.5 324.5l2 -2h2l2 2v2l-2 2h-2l-2 -2zM259.5 322.5l2 -2h2l2 2v2l-2 2h-2l-2 -2zM258.5 322.5l2 -2h2l2 2v2l-2 2h-2l-2 -2zM257.5 323.5l2 -2h2l2 2v2l-2 2h-2l-2 -2zM256.5 323.5l2 -2h2l2 2v2l-2 2h-2l-2 -2zM256.5 322.5l2 -2h2l2 2v2l-2 2h-2l-2 -2zM256.5 320.5l2 -2h2l2 2v2l-2 2h-2l-2 -2zM256.5 319.5l2 -2h2l2 2v2l-2 2h-2l-2 -2zM257.5 319.5l2 -2h2l2 2v2l-2 2h-2l-2 -2zM258.5 320.5l2 -2h2l2 2v2l-2 2h-2l-2 -2zM259.5 320.5l2 -2h2l2 2v2l-2 2h-2l-2 -2zM258.5 318.5l2 -2h2l2 2v2l-2 2h-2l-2 -2zM254.5 309.5l2 -2h2l2 2v2l-2 2h-2l-2 -2zM246.5 282.5l2 -2h2l2 2v2l-2 2h-2l-2 -2zM253.5 352.5l2 -2h2l2 2v2l-2 2h-2l-2 -2zM257.5 329.5l2 -2h2l2 2v2l-2 2h-2l-2 -2zM259.5 323.5l2 -2h2l2 2v2l-2 2h-2l-2 -2zM259.5 322.5l2 -2h2l2 2v2l-2 2h-2l-2 -2zM258.5 323.5l2 -2h2l2 2v2l-2 2h-2l-2 -2zM257.5 324.5l2 -2h2l2 2v2l-2 2h-2l-2 -2zM257.5 323.5l2 -2h2l2 2v2l-2 2h-2l-2 -2zM256.5 322.5l2 -2h2l2 2v2l-2 2h-2l-2 -2zM256.5 320.5l2 -2h2l2 2v2l-2 2h-2l-2 -2zM257.5 319.5l2 -2h2l2 2v2l-2 2h-2l-2 -2zM257.5 318.5l2 -2h2l2 2v2l-2 2h-2l-2 -2zM258.5 319.5l2 -2h2l2 2v2l-2 2h-2l-2 -2zM259.5 320.5l2 -2h2l2 2v2l-2 2h-2l-2 -2zM259.5 319.5l2 -2h2l2 2v2l-2 2h-2l-2 -2zM257.5 313.5l2 -2h2l2 2v2l-2 2h-2l-2 -2zM253.5 290.5l2 -2h2l2 2v2l-2 2h-2l-2 -2zM257.5 348.5l2 -2h2l2 2v2l-2 2h-2l-2 -2zM258.5 328.5l2 -2h2l2 2v2l-2 2h-2l-2 -2zM259.5 322.5l2 -2h2l2 2v2l-2 2h-2l-2 -2zM259.5 322.5l2 -2h2l2 2v2l-2 2h-2l-2 -2zM259.5 324.5l2 -2h2l2 2v2l-2 2h-2l-2 -2zM258.5 324.5l2 -2h2l2 2v2l-2 2h-2l-2 -2zM258.5 324.5l2 -2h2l2 2v2l-2 2h-2l-2 -2zM258.5 322.5l2 -2h2l2 2v2l-2 2h-2l-2 -2zM258.5 320.5l2 -2h2l2 2v2l-2 2h-2l-2 -2zM258.5 318.5l2 -2h2l2 2v2l-2 2h-2l-2 -2zM258.5 318.5l2 -2h2l2 2v2l-2 2h-2l-2 -2zM259.5 318.5l2 -2h2l2 2v2l-2 2h-2l-2 -2zM259.5 320.5l2 -2h2l2 2v2l-2 2h-2l-2 -2zM259.5 320.5l2 -2h2l2 2v2l-2 2h-2l-2 -2zM258.5 314.5l2 -2h2l2 2v2l-2 2h-2l-2 -2zM257.5 294.5l2 -2h2l2 2v2l-2 2h-2l-2 -2zM261.5 348.5l2 -2h2l2 2v2l-2 2h-2l-2 -2zM260.5 328.5l2 -2h2l2 2v2l-2 2h-2l-2 -2zM259.5 322.5l2 -2h2l2 2v2l-2 2h-2l-2 -2zM259.5 322.5l2 -2h2l2 2v2l-2 2h-2l-2 -2zM259.5 324.5l2 -2h2l2 2v2l-2 2h-2l-2 -2zM260.5 324.5l2 -2h2l2 2v2l-2 2h-2l-2 -2zM260.5 324.5l2 -2h2l2 2v2l-2 2h-2l-2 -2zM260.5 322.5l2 -2h2l2 2v2l-2 2h-2l-2 -2zM260.5 320.5l2 -2h2l2 2v2l-2 2h-2l-2 -2zM260.5 318.5l2 -2h2l2 2v2l-2 2h-2l-2 -2zM260.5 318.5l2 -2h2l2 2v2l-2 2h-2l-2 -2zM259.5 318.5l2 -2h2l2 2v2l-2 2h-2l-2 -2zM259.5 320.5l2 -2h2l2 2v2l-2 2h-2l-2 -2zM259.5 320.5l2 -2h2l2 2v2l-2 2h-2l-2 -2zM260.5 314.5l2 -2h2l2 2v2l-2 2h-2l-2 -2zM261.5 294.5l2 -2h2l2 2v2l-2 2h-2l-2 -2zM265.5 352.5l2 -2h2l2 2v2l-2 2h-2l-2 -2zM261.5 329.5l2 -2h2l2 2v2l-2 2h-2l-2 -2zM259.5 323.5l2 -2h2l2 2v2l-2 2h-2l-2 -2zM259.5 322.5l2 -2h2l2 2v2l-2 2h-2l-2 -2zM260.5 323.5l2 -2h2l2 2v2l-2 2h-2l-2 -2zM261.5 324.5l2 -2h2l2 2v2l-2 2h-2l-2 -2zM261.5 323.5l2 -2h2l2 2v2l-2 2h-2l-2 -2zM262.5 322.5l2 -2h2l2 2v2l-2 2h-2l-2 -2zM262.5 320.5l2 -2h2l2 2v2l-2 2h-2l-2 -2zM261.5 319.5l2 -2h2l2 2v2l-2 2h-2l-2 -2zM261.5 318.5l2 -2h2l2 2v2l-2 2h-2l-2 -2zM260.5 319.5l2 -2h2l2 2v2l-2 2h-2l-2 -2zM259.5 320.5l2 -2h2l2 2v2l-2 2h-2l-2 -2zM259.5 319.5l2 -2h2l2 2v2l-2 2h-2l-2 -2zM261.5 313.5l2 -2h2l2 2v2l-2 2h-2l-2 -2zM265.5 290.5l2 -2h2l2 2v2l-2 2h-2l-2 -2zM272.5 360.5l2 -2h2l2 2v2l-2 2h-2l-2 -2zM264.5 333.5l2 -2h2l2 2v2l-2 2h-2l-2 -2zM260.5 324.5l2 -2h2l2 2v2l-2 2h-2l-2 -2zM259.5 322.5l2 -2h2l2 2v2l-2 2h-2l-2 -2zM260.5 322.5l2 -2h2l2 2v2l-2 2h-2l-2 -2zM261.5 323.5l2 -2h2l2 2v2l-2 2h-2l-2 -2zM262.5 323.5l2 -2h2l2 2v2l-2 2h-2l-2 -2zM262.5 322.5l2 -2h2l2 2v2l-2 2h-2l-2 -2zM262.5 320.5l2 -2h2l2 2v2l-2 2h-2l-2 -2zM262.5 319.5l2 -2h2l2 2v2l-2 2h-2l-2 -2zM261.5 319.5l2 -2h2l2 2v2l-2 2h-2l-2 -2zM260.5 320.5l2 -2h2l2 2v2l-2 2h-2l-2 -2zM259.5 320.5l2 -2h2l2 2v2l-2 2h-2l-2 -2zM260.5 318.5l2 -2h2l2 2v2l-2 2h-2l-2 -2zM264.5 309.5l2 -2h2l2 2v2l-2 2h-2l-2 -2zM272.5 282.5l2 -2h2l2 2v2l-2 2h-2l-2 -2zM285.5 376.5l2 -2h2l2 2v2l-2 2h-2l-2 -2zM270.5 341.5l2 -2h2l2 2v2l-2 2h-2l-2 -2zM263.5 327.5l2 -2h2l2 2v2l-2 2h-2l-2 -2zM260.5 322.5l2 -2h2l2 2v2l-2 2h-2l-2 -2zM260.5 322.5l2 -2h2l2 2v2l-2 2h-2l-2 -2zM260.5 322.5l2 -2h2l2 2v2l-2 2h-2l-2 -2zM261.5 322.5l2 -2h2l2 2v2l-2 2h-2l-2 -2zM262.5 321.5l2 -2h2l2 2v2l-2 2h-2l-2 -2zM262.5 321.5l2 -2h2l2 2v2l-2 2h-2l-2 -2zM261.5 320.5l2 -2h2l2 2v2l-2 2h-2l-2 -2zM260.5 320.5l2 -2h2l2 2v2l-2 2h-2l-2 -2zM260.5 320.5l2 -2h2l2 2v2l-2 2h-2l-2 -2zM260.5 320.5l2 -2h2l2 2v2l-2 2h-2l-2 -2zM263.5 315.5l2 -2h2l2 2v2l-2 2h-2l-2 -2zM270.5 301.5l2 -2h2l2 2v2l-2 2h-2l-2 -2zM285.5 266.5l2 -2h2l2 2v2l-2 2h-2l-2 -2zM283.5 355.5l2 -2h2l2 2v2l-2 2h-2l-2 -2zM269.5 334.5l2 -2h2l2 2v2l-2 2h-2l-2 -2zM263.5 325.5l2 -2h2l2 2v2l-2 2h-2l-2 -2zM260.5 322.5l2 -2h2l2 2v2l-2 2h-2l-2 -2zM260.5 321.5l2 -2h2l2 2v2l-2 2h-2l-2 -2zM260.5 321.5l2 -2h2l2 2v2l-2 2h-2l-2 -2zM260.5 321.5l2 -2h2l2 2v2l-2 2h-2l-2 -2zM260.5 321.5l2 -2h2l2 2v2l-2 2h-2l-2 -2zM260.5 321.5l2 -2h2l2 2v2l-2 2h-2l-2 -2zM260.5 321.5l2 -2h2l2 2v2l-2 2h-2l-2 -2zM260.5 320.5l2 -2h2l2 2v2l-2 2h-2l-2 -2zM263.5 317.5l2 -2h2l2 2v2l-2 2h-2l-2 -2zM269.5 308.5l2 -2h2l2 2v2l-2 2h-2l-2 -2zM283.5 287.5l2 -2h2l2 2v2l-2 2h-2l-2 -2zM285.5 347.5l2 -2h2l2 2v2l-2 2h-2l-2 -2zM272.5 331.5l2 -2h2l2 2v2l-2 2h-2l-2 -2zM265.5 325.5l2 -2h2l2 2v2l-2 2h-2l-2 -2zM262.5 322.5l2 -2h2l2 2v2l-2 2h-2l-2 -2zM261.5 321.5l2 -2h2l2 2v2l-2 2h-2l-2 -2zM260.5 321.5l2 -2h2l2 2v2l-2 2h-2l-2 -2zM260.5 321.5l2 -2h2l2 2v2l-2 2h-2l-2 -2zM261.5 321.5l2 -2h2l2 2v2l-2 2h-2l-2 -2zM262.5 320.5l2 -2h2l2 2v2l-2 2h-2l-2 -2zM265.5 317.5l2 -2h2l2 2v2l-2 2h-2l-2 -2zM272.5 311.5l2 -2h2l2 2v2l-2 2h-2l-2 -2zM285.5 295.5l2 -2h2l2 2v2l-2 2h-2l-2 -2zM293.5 345.5l2 -2h2l2 2v2l-2 2h-2l-2 -2zM279.5 332.5l2 -2h2l2 2v2l-2 2h-2l-2 -2zM271.5 326.5l2 -2h2l2 2v2l-2 2h-2l-2 -2zM267.5 323.5l2 -2h2l2 2v2l-2 2h-2l-2 -2zM266.5 322.5l2 -2h2l2 2v2l-2 2h-2l-2 -2zM266.5 320.5l2 -2h2l2 2v2l-2 2h-2l-2 -2zM267.5 319.5l2 -2h2l2 2v2l-2 2h-2l-2 -2zM271.5 316.5l2 -2h2l2 2v2l-2 2h-2l-2 -2zM279.5 310.5l2 -2h2l2 2v2l-2 2h-2l-2 -2zM293.5 297.5l2 -2h2l2 2v2l-2 2h-2l-2 -2zM314.5 347.5l2 -2h2l2 2v2l-2 2h-2l-2 -2zM298.5 334.5l2 -2h2l2 2v2l-2 2h-2l-2 -2zM290.5 327.5l2 -2h2l2 2v2l-2 2h-2l-2 -2zM286.5 323.5l2 -2h2l2 2v2l-2 2h-2l-2 -2zM286.5 319.5l2 -2h2l2 2v2l-2 2h-2l-2 -2zM290.5 315.5l2 -2h2l2 2v2l-2 2h-2l-2 -2zM298.5 308.5l2 -2h2l2 2v2l-2 2h-2l-2 -2zM314.5 295.5l2 -2h2l2 2v2l-2 2h-2l-2 -2z"/>
</g>
<g clip-path="url(#cr)">
<path class="ce" stroke="#00c000" d="M796.5 517.5L796.5 512.5L796.5 507.5L796.5 502.5L796.5 497.5L795.5 492.5L795.5 487.5L795.5 482.5L795.5 477.5L795.5 472.5L794.5 467.5L794.5 462.5L794.5 457.5L793.5 452.5L793.5 447.5L792.5 442.5L792.5 437.5L791.5 432.5L791.5 427.5L790.5 422.5L790.5 417.5L789.5 412.5L789.5 407.5L788.5 402.5L787.5 397.5L787.5 392.5L786.5 387.5L785.5 382.5L785.5 377.5L784.5 372.5L783.5 367.5L782.5 362.5L782.5 357.5L781.5 352.5L780.5 347.5L779.5 342.5L779.5 337.5L778.5 332.5L777.5 327.5L776.5 322.5L776.5 317.5L775.5 312.5L774.5 307.5L774.5 302.5L773.5 297.5L772.5 292.5L772.5 287.5L771.5 282.5L771.5 277.5L770.5 272.5L770.5 267.5L769.5 262.5L769.5 257.5L769.5 252.5L768.5 247.5L768.5 242.5L768.5 237.5L768.5 232.5L768.5 227.5L768.5 222.5L768.5 217.5L769.5 212.5L769.5 207.5L770.5 202.5L770.5 197.5L771.5 192.5L772.5 187.5L773.5 182.5L774.5 177.5L775.5 172.5L777.5 167.5L778.5 162.5L780.5 157.5L782.5 153.5L784.5 148.5L787.5 143.5L789.5 138.5L792.5 133.5L795.5 128.5L799.5 123.5L802.5 118.5M791.5 516.5h10M796.5 512.5v9M785.5 416.5h10M790.5 412.5v9M771.5 316.5h10M776.5 312.5v9M763.5 216.5h10M768.5 212.5v9M797.5 117.5h10M802.5 113.5v9"/>
<path class="ce" stroke="#0000ff" d="M818.5 517.5L818.5 512.5L818.5 507.5L817.5 502.5L817.5 497.5L817.5 492.5L817.5 487.5L816.5 482.5L816.5 477.5L815.5 472.5L815.5 467.5L814.5 462.5L813.5 457.5L813.5 452.5L812.5 447.5L811.5 442.5L810.5 437.5L809.5 432.5L808.5 427.5L807.5 422.5L806.5 417.5L804.5 412.5L803.5 407.5L802.5 402.5L801.5 397.5L799.5 392.5L798.5 387.5L796.5 382.5L795.5 377.5L793.5 372.5L791.5 367.5L790.5 362.5L788.5 357.5L786.5 352.5L784.5 347.5L783.5 342.5L781.5 337.5L779.5 332.5L777.5 327.5L775.5 322.5L773.5 317.5L771.5 312.5L769.5 307.5L767.5 302.5L765.5 297.5L763.5 292.5L761.5 287.5L759.5 282.5L757.5 277.5L755.5 272.5L753.5 267.5L751.5 262.5L749.5 257.5L747.5 252.5L745.5 247.5L743.5 242.5L741.5 237.5L740.5 232.5L738.5 227.5L736.5 222.5L735.5 217.5L733.5 212.5L731.5 207.5L730.5 202.5L729.5 197.5L727.5 192.5L726.5 187.5L725.5 182.5L724.5 177.5L724.5 172.5L723.5 167.5L722.5 162.5L722.5 157.5L722.5 153.5L722.5 148.5L722.5 143.5L722.5 138.5L723.5 133.5L724.5 128.5L724.5 123.5L726.5 118.5M818.5 512.5l5 7h-10zM806.5 412.5l5 7h-10zM773.5 312.5l5 7h-10zM735.5 212.5l5 7h-10zM726.5 113.5l5 7h-10z"/>
<path class="ce" stroke="#ff0000" d="M673.5 517.5L673.5 512.5L673.5 507.5L673.5 502.5L673.5 497.5L673.5 492.5L673.5 487.5L673.5 482.5L673.5 477.5L673.5 472.5L673.5 467.5L673.5 462.5L673.5 457.5L673.5 452.5L673.5 447.5L673.5 442.5L674.5 437.5L674.5 432.5L674.5 427.5L674.5 422.5L674.5 417.5L674.5 412.5L674.5 407.5L674.5 402.5L675.5 397.5L675.5 392.5L675.5 387.5L675.5 382.5L676.5 377.5L676.5 372.5L676.5 367.5L676.5 362.5L677.5 357.5L677.5 352.5L678.5 347.5L678.5 342.5L679.5 337.5L679.5 332.5L680.5 327.5L680.5 322.5L681.5 317.5L682.5 312.5L683.5 307.5L683.5 302.5L684.5 297.5L685.5 292.5L686.5 287.5L687.5 282.5L688.5 277.5L690.5 272.5L691.5 267.5L692.5 262.5L694.5 257.5L695.5 252.5L697.5 247.5L699.5 242.5L701.5 237.5L703.5 232.5L705.5 227.5L707.5 222.5L709.5 217.5L712.5 212.5L715.5 207.5L717.5 202.5L720.5 197.5L723.5 192.5L727.5 187.5L730.5 182.5L734.5 177.5L738.5 172.5L742.5 167.5L746.5 162.5L750.5 157.5L755.5 153.5L760.5 148.5L765.5 143.5L771.5 138.5L776.5 133.5L782.5 128.5L789.5 123.5L795.5 118.5M669.5 513.5h8v7h-8zM670.5 413.5h8v7h-8zM677.5 313.5h8v7h-8zM705.5 213.5h8v7h-8zM791.5 114.5h8v7h-8z"/>
<path class="ce" stroke="#10c4d0" d="M819.5 517.5L819.5 512.5L819.5 507.5L819.5 502.5L818.5 497.5L818.5 492.5L818.5 487.5L818.5 482.5L817.5 477.5L817.5 472.5L816.5 467.5L816.5 462.5L815.5 457.5L814.5 452.5L814.5 447.5L813.5 442.5L812.5 437.5L811.5 432.5L810.5 427.5L809.5 422.5L808.5 417.5L807.5 412.5L806.5 407.5L805.5 402.5L804.5 397.5L803.5 392.5L802.5 387.5L800.5 382.5L799.5 377.5L798.5 372.5L796.5 367.5L795.5 362.5L793.5 357.5L792.5 352.5L790.5 347.5L789.5 342.5L787.5 337.5L786.5 332.5L784.5 327.5L782.5 322.5L781.5 317.5L779.5 312.5L777.5 307.5L776.5 302.5L774.5 297.5L772.5 292.5L771.5 287.5L769.5 282.5L767.5 277.5L766.5 272.5L764.5 267.5L762.5 262.5L761.5 257.5L759.5 252.5L758.5 247.5L756.5 242.5L755.5 237.5L753.5 232.5L752.5 227.5L751.5 222.5L749.5 217.5L748.5 212.5L747.5 207.5L746.5 202.5L745.5 197.5L745.5 192.5L744.5 187.5L743.5 182.5L743.5 177.5L743.5 172.5L743.5 167.5L743.5 162.5L743.5 157.5L743.5 153.5L744.5 148.5L744.5 143.5L745.5 138.5L746.5 133.5L748.5 128.5L749.5 123.5L751.5 118.5M814.5 512.5l10 9M824.5 512.5l-10 9M803.5 412.5l10 9M813.5 412.5l-10 9M776.5 312.5l10 9M786.5 312.5l-10 9M744.5 212.5l10 9M754.5 212.5l-10 9M746.5 113.5l10 9M756.5 113.5l-10 9"/>
<path class="ce" stroke="#ff9c08" d="M755.5 517.5L755.5 512.5L755.5 507.5L755.5 502.5L755.5 497.5L754.5 492.5L754.5 487.5L754.5 482.5L754.5 477.5L754.5 472.5L754.5 467.5L754.5 462.5L754.5 457.5L753.5 452.5L753.5 447.5L753.5 442.5L753.5 437.5L752.5 432.5L752.5 427.5L752.5 422.5L752.5 417.5L751.5 412.5L751.5 407.5L751.5 402.5L751.5 397.5L750.5 392.5L750.5 387.5L750.5 382.5L749.5 377.5L749.5 372.5L749.5 367.5L749.5 362.5L748.5 357.5L748.5 352.5L748.5 347.5L747.5 342.5L747.5 337.5L747.5 332.5L747.5 327.5L747.5 322.5L747.5 317.5L746.5 312.5L746.5 307.5L746.5 302.5L746.5 297.5L746.5 292.5L746.5 287.5L747.5 282.5L747.5 277.5L747.5 272.5L747.5 267.5L748.5 262.5L748.5 257.5L749.5 252.5L749.5 247.5L750.5 242.5L751.5 237.5L751.5 232.5L752.5 227.5L753.5 222.5L755.5 217.5L756.5 212.5L757.5 207.5L759.5 202.5L761.5 197.5L762.5 192.5L764.5 187.5L766.5 182.5L769.5 177.5L771.5 172.5L774.5 167.5L777.5 162.5L780.5 157.5L783.5 153.5L787.5 148.5L790.5 143.5L794.5 138.5L799.5 133.5L803.5 128.5L808.5 123.5L813.5 118.5M755.5 520.5l4 -6h-8zM752.5 420.5l4 -6h-8zM747.5 320.5l4 -6h-8zM755.5 220.5l4 -6h-8zM813.5 121.5l4 -6h-8z"/>
<path class="ce" stroke="#cc00aa" d="M751.5 517.5L751.5 512.5L751.5 507.5L750.5 502.5L750.5 497.5L749.5 492.5L749.5 487.5L748.5 482.5L747.5 477.5L747.5 472.5L746.5 467.5L745.5 462.5L743.5 457.5L742.5 452.5L741.5 447.5L739.5 442.5L738.5 437.5L736.5 432.5L734.5 427.5L732.5 422.5L730.5 417.5L728.5 412.5L726.5 407.5L724.5 402.5L722.5 397.5L719.5 392.5L717.5 387.5L714.5 382.5L711.5 377.5L709.5 372.5L706.5 367.5L703.5 362.5L700.5 357.5L697.5 352.5L694.5 347.5L691.5 342.5L688.5 337.5L684.5 332.5L681.5 327.5L678.5 322.5L674.5 317.5L671.5 312.5L667.5 307.5L664.5 302.5L660.5 297.5L656.5 292.5L653.5 287.5L649.5 282.5L645.5 277.5L641.5 272.5L637.5 267.5L634.5 262.5L630.5 257.5L626.5 252.5L622.5 247.5L618.5 242.5L614.5 237.5L610.5 232.5L606.5 227.5L603.5 222.5L599.5 217.5L595.5 212.5L591.5 207.5L587.5 202.5L584.5 197.5L580.5 192.5L576.5 187.5L572.5 182.5L569.5 177.5L565.5 172.5L562.5 167.5L558.5 162.5L555.5 157.5L552.5 153.5L548.5 148.5L545.5 143.5L542.5 138.5L539.5 133.5L536.5 128.5L533.5 123.5L531.5 118.5M746.5 517l4.5 -4.5 4.5 4.5 -4.5 4.5zM725.5 417l4.5 -4.5 4.5 4.5 -4.5 4.5zM669.5 317l4.5 -4.5 4.5 4.5 -4.5 4.5zM594.5 217l4.5 -4.5 4.5 4.5 -4.5 4.5zM526.5 118l4.5 -4.5 4.5 4.5 -4.5 4.5z"/>
<path class="ce" stroke="#f0e400" d="M770.5 517.5L770.5 512.5L770.5 507.5L770.5 502.5L770.5 497.5L770.5 492.5L769.5 487.5L769.5 482.5L769.5 477.5L769.5 472.5L769.5 467.5L769.5 462.5L768.5 457.5L768.5 452.5L768.5 447.5L768.5 442.5L767.5 437.5L767.5 432.5L767.5 427.5L766.5 422.5L766.5 417.5L766.5 412.5L765.5 407.5L765.5 402.5L765.5 397.5L764.5 392.5L764.5 387.5L764.5 382.5L763.5 377.5L763.5 372.5L762.5 367.5L762.5 362.5L762.5 357.5L761.5 352.5L761.5 347.5L760.5 342.5L760.5 337.5L760.5 332.5L759.5 327.5L759.5 322.5L759.5 317.5L758.5 312.5L758.5 307.5L758.5 302.5L758.5 297.5L757.5 292.5L757.5 287.5L757.5 282.5L757.5 277.5L757.5 272.5L757.5 267.5L757.5 262.5L757.5 257.5L758.5 252.5L758.5 247.5L758.5 242.5L759.5 237.5L759.5 232.5L760.5 227.5L760.5 222.5L761.5 217.5L762.5 212.5L763.5 207.5L764.5 202.5L766.5 197.5L767.5 192.5L769.5 187.5L770.5 182.5L772.5 177.5L774.5 172.5L777.5 167.5L779.5 162.5L782.5 157.5L785.5 153.5L788.5 148.5L791.5 143.5L795.5 138.5L798.5 133.5L802.5 128.5L807.5 123.5L812.5 118.5M766.5 515.5l1 -2 2 -1h2l2 1 1 2v2l-1 2 -2 1h-2l-2 -1 -1 -2zM762.5 415.5l1 -2 2 -1h2l2 1 1 2v2l-1 2 -2 1h-2l-2 -1 -1 -2zM755.5 315.5l1 -2 2 -1h2l2 1 1 2v2l-1 2 -2 1h-2l-2 -1 -1 -2zM757.5 215.5l1 -2 2 -1h2l2 1 1 2v2l-1 2 -2 1h-2l-2 -1 -1 -2zM808.5 116.5l1 -2 2 -1h2l2 1 1 2v2l-1 2 -2 1h-2l-2 -1 -1 -2z"/>
</g>
<g class="ce" stroke="#fff">
<path d="M756.5 516.5V118.5M751.5 118.5h11M751.5 197.5h11M751.5 277.5h11M751.5 357.5h11M751.5 437.5h11M651.5 516.5H862.5M651.5 516.5V508.5M677.5 516.5V508.5M704.5 516.5V508.5M730.5 516.5V508.5M757.5 516.5V508.5M783.5 516.5V508.5M809.5 516.5V508.5M836.5 516.5V508.5M862.5 516.5V508.5"/>
</g>
</svg>
</body></html>
